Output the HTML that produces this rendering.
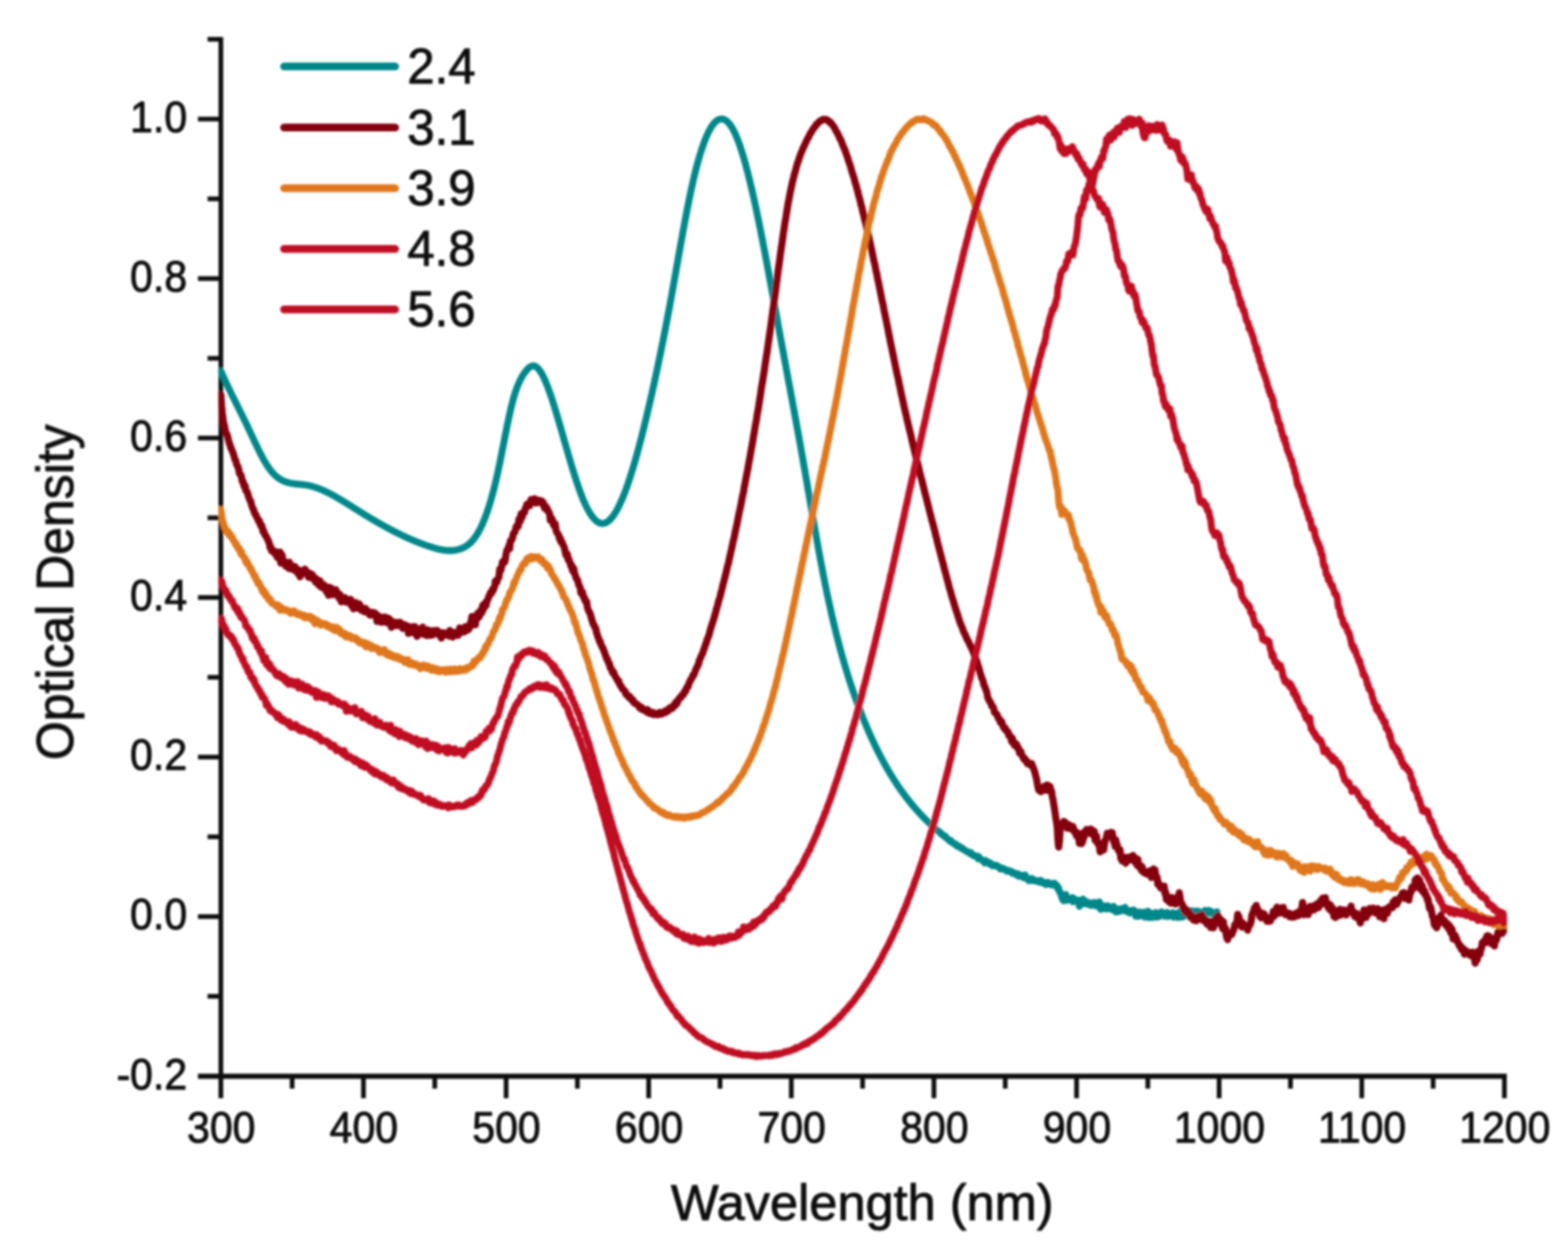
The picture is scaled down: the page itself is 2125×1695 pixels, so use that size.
<!DOCTYPE html>
<html lang="en"><head><meta charset="utf-8"><title>Optical Density vs Wavelength</title>
<style>html,body{margin:0;padding:0;background:#fff}body{width:2125px;height:1695px;overflow:hidden}svg{display:block}text{font-family:"Liberation Sans",Arial,Helvetica,sans-serif;fill:#0a0a0a;stroke:#0a0a0a;stroke-width:1.1px;stroke-linejoin:round}.tk{font-size:55.5px}.lg{font-size:66.5px}.ax{font-size:68px}</style></head><body>
<svg xmlns="http://www.w3.org/2000/svg" width="2125" height="1695" viewBox="0 0 2125 1695">
<defs><filter id="b" x="-2%" y="-2%" width="104%" height="104%"><feGaussianBlur stdDeviation="1.60"/></filter><clipPath id="c"><rect x="295.8" y="0" width="1746.5" height="1695"/></clipPath></defs>
<rect width="2125" height="1695" fill="#fff"/>
<g filter="url(#b)">
<g stroke="#0c0c0c" stroke-width="6.3" fill="none" stroke-linecap="butt">
<path d="M299.3 50.2 V1488.0"/>
<path stroke-width="7" d="M268.3 1458.3 H2042.0"/>
<path d="M281.3 1349.9 H299.3"/>
<path d="M268.3 1241.9 H299.3"/>
<path d="M281.3 1133.8 H299.3"/>
<path d="M268.3 1025.8 H299.3"/>
<path d="M281.3 917.7 H299.3"/>
<path d="M268.3 809.6 H299.3"/>
<path d="M281.3 701.6 H299.3"/>
<path d="M268.3 593.5 H299.3"/>
<path d="M281.3 485.5 H299.3"/>
<path d="M268.3 377.4 H299.3"/>
<path d="M281.3 269.4 H299.3"/>
<path d="M268.3 161.3 H299.3"/>
<path d="M281.3 53.2 H299.3"/>
<path d="M395.9 1458.0 V1475.0"/>
<path d="M492.6 1458.0 V1488.0"/>
<path d="M589.2 1458.0 V1475.0"/>
<path d="M685.9 1458.0 V1488.0"/>
<path d="M782.5 1458.0 V1475.0"/>
<path d="M879.1 1458.0 V1488.0"/>
<path d="M975.8 1458.0 V1475.0"/>
<path d="M1072.4 1458.0 V1488.0"/>
<path d="M1169.0 1458.0 V1475.0"/>
<path d="M1265.7 1458.0 V1488.0"/>
<path d="M1362.3 1458.0 V1475.0"/>
<path d="M1459.0 1458.0 V1488.0"/>
<path d="M1555.6 1458.0 V1475.0"/>
<path d="M1652.2 1458.0 V1488.0"/>
<path d="M1748.9 1458.0 V1475.0"/>
<path d="M1845.5 1458.0 V1488.0"/>
<path d="M1942.2 1458.0 V1475.0"/>
<path d="M2038.8 1458.0 V1488.0"/>
</g>
<g fill="none" stroke-linejoin="round" stroke-linecap="butt" clip-path="url(#c)">
<path d="M293.3 502.8L299.3 502.8L300.3 505L301.2 507.2L302.2 509.3L303.2 511.5L304.1 513.6L305.1 515.7L306.1 517.7L307 519.8L308 521.8L309 523.9L309.9 525.9L310.9 527.9L311.9 529.9L312.8 531.9L313.8 533.8L314.8 535.8L315.7 537.8L316.7 539.7L317.7 541.7L318.6 543.6L319.6 545.6L320.6 547.5L321.5 549.4L322.5 551.4L323.5 553.3L324.4 555.2L325.4 557.2L326.4 559.1L327.3 561.1L328.3 563L329.3 565L330.2 567L331.2 569L332.2 570.9L333.1 572.9L334.1 575L335.1 577L336 579L337 581.1L338 583.1L338.9 585.2L339.9 587.3L340.9 589.4L341.8 591.4L342.8 593.5L343.8 595.6L344.7 597.6L345.7 599.7L346.7 601.7L347.6 603.7L348.6 605.7L349.6 607.7L350.5 609.7L351.5 611.6L352.5 613.6L353.4 615.4L354.4 617.3L355.4 619.1L356.3 620.9L357.3 622.7L358.2 624.4L359.2 626L360.2 627.6L361.1 629.2L362.1 630.7L363.1 632.2L364 633.6L365 635L366 636.3L366.9 637.5L367.9 638.7L368.9 639.9L369.8 640.9L370.8 642L371.8 642.9L372.7 643.9L373.7 644.8L374.7 645.6L375.6 646.4L376.6 647.1L377.6 647.8L378.5 648.5L379.5 649.1L380.5 649.7L381.4 650.2L382.4 650.8L383.4 651.2L384.3 651.7L385.3 652.1L386.3 652.5L387.2 652.8L388.2 653.2L389.2 653.5L390.1 653.8L391.1 654L392.1 654.2L393 654.5L394 654.7L395 654.9L395.9 655L396.9 655.2L397.9 655.3L398.8 655.4L399.8 655.6L400.8 655.7L401.7 655.8L402.7 655.9L403.7 656L404.6 656.1L405.6 656.2L406.6 656.3L407.5 656.3L408.5 656.4L409.5 656.5L410.4 656.6L411.4 656.8L412.4 656.9L413.3 657L414.3 657.2L415.3 657.3L416.2 657.5L417.2 657.7L418.2 657.9L419.1 658.1L420.1 658.3L421.1 658.5L422 658.8L423 659L424 659.3L424.9 659.6L425.9 659.9L426.9 660.2L427.8 660.5L428.8 660.8L429.8 661.2L430.7 661.5L431.7 661.9L432.7 662.2L433.6 662.6L434.6 663L435.6 663.4L436.5 663.8L437.5 664.2L438.5 664.7L439.4 665.1L440.4 665.5L441.4 666L442.3 666.5L443.3 666.9L444.3 667.4L445.2 667.9L446.2 668.4L447.2 668.9L448.1 669.4L449.1 669.9L450.1 670.4L451 670.9L452 671.5L453 672L453.9 672.5L454.9 673.1L455.9 673.6L456.8 674.2L457.8 674.8L458.8 675.3L459.7 675.9L460.7 676.5L461.7 677L462.6 677.6L463.6 678.2L464.6 678.8L465.5 679.4L466.5 680L467.5 680.6L468.4 681.2L469.4 681.8L470.4 682.4L471.3 683L472.3 683.6L473.2 684.2L474.2 684.8L475.2 685.4L476.1 686L477.1 686.6L478.1 687.2L479 687.9L480 688.5L481 689.1L481.9 689.7L482.9 690.3L483.9 690.9L484.8 691.5L485.8 692.1L486.8 692.7L487.7 693.3L488.7 693.9L489.7 694.5L490.6 695.1L491.6 695.7L492.6 696.3L493.5 696.9L494.5 697.5L495.5 698.1L496.4 698.7L497.4 699.3L498.4 699.9L499.3 700.4L500.3 701L501.3 701.6L502.2 702.2L503.2 702.8L504.2 703.3L505.1 703.9L506.1 704.5L507.1 705L508 705.6L509 706.2L510 706.7L510.9 707.3L511.9 707.8L512.9 708.4L513.8 708.9L514.8 709.5L515.8 710L516.7 710.6L517.7 711.1L518.7 711.7L519.6 712.2L520.6 712.7L521.6 713.3L522.5 713.8L523.5 714.3L524.5 714.9L525.4 715.4L526.4 715.9L527.4 716.4L528.3 716.9L529.3 717.5L530.3 718L531.2 718.5L532.2 719L533.2 719.5L534.1 720L535.1 720.5L536.1 721L537 721.4L538 721.9L539 722.4L539.9 722.9L540.9 723.4L541.9 723.8L542.8 724.3L543.8 724.8L544.8 725.2L545.7 725.7L546.7 726.2L547.7 726.6L548.6 727.1L549.6 727.5L550.6 728L551.5 728.4L552.5 728.8L553.5 729.3L554.4 729.7L555.4 730.1L556.4 730.6L557.3 731L558.3 731.4L559.3 731.8L560.2 732.2L561.2 732.6L562.2 733L563.1 733.4L564.1 733.8L565.1 734.2L566 734.6L567 735L568 735.3L568.9 735.7L569.9 736.1L570.9 736.5L571.8 736.8L572.8 737.2L573.8 737.5L574.7 737.9L575.7 738.2L576.7 738.6L577.6 738.9L578.6 739.2L579.6 739.6L580.5 739.9L581.5 740.2L582.5 740.5L583.4 740.8L584.4 741.1L585.4 741.5L586.3 741.7L587.3 742L588.3 742.3L589.2 742.6L590.2 742.9L591.1 743.1L592.1 743.4L593.1 743.7L594 743.9L595 744.1L596 744.3L596.9 744.6L597.9 744.8L598.9 744.9L599.8 745.1L600.8 745.3L601.8 745.4L602.7 745.5L603.7 745.7L604.7 745.8L605.6 745.9L606.6 745.9L607.6 746L608.5 746L609.5 746L610.5 746L611.4 746L612.4 746L613.4 745.9L614.3 745.8L615.3 745.7L616.3 745.6L617.2 745.4L618.2 745.3L619.2 745.1L620.1 744.8L621.1 744.6L622.1 744.3L623 744L624 743.7L625 743.3L625.9 743L626.9 742.5L627.9 742.1L628.8 741.6L629.8 741.1L630.8 740.6L631.7 740L632.7 739.3L633.7 738.6L634.6 737.9L635.6 737.1L636.6 736.3L637.5 735.4L638.5 734.4L639.5 733.4L640.4 732.4L641.4 731.2L642.4 730L643.3 728.7L644.3 727.4L645.3 726L646.2 724.5L647.2 722.9L648.2 721.3L649.1 719.5L650.1 717.7L651.1 715.8L652 713.9L653 711.8L654 709.7L654.9 707.4L655.9 705.1L656.9 702.7L657.8 700.2L658.8 697.5L659.8 694.8L660.7 692L661.7 689.1L662.7 686.1L663.6 683L664.6 679.8L665.6 676.5L666.5 673.1L667.5 669.6L668.5 665.9L669.4 662.2L670.4 658.3L671.4 654.3L672.3 650.2L673.3 646L674.3 641.7L675.2 637.3L676.2 632.7L677.2 628.1L678.1 623.3L679.1 618.5L680.1 613.6L681 608.7L682 603.8L683 598.8L683.9 593.9L684.9 589L685.9 584.1L686.8 579.3L687.8 574.6L688.8 569.9L689.7 565.4L690.7 560.9L691.7 556.6L692.6 552.5L693.6 548.5L694.6 544.7L695.5 541.1L696.5 537.6L697.5 534.4L698.4 531.4L699.4 528.5L700.4 525.8L701.3 523.3L702.3 520.9L703.3 518.7L704.2 516.6L705.2 514.6L706.1 512.8L707.1 511L708.1 509.4L709 507.8L710 506.4L711 505L711.9 503.7L712.9 502.5L713.9 501.3L714.8 500.3L715.8 499.3L716.8 498.4L717.7 497.6L718.7 497L719.7 496.4L720.6 496L721.6 495.8L722.6 495.7L723.5 495.7L724.5 496L725.5 496.3L726.4 496.9L727.4 497.6L728.4 498.4L729.3 499.4L730.3 500.5L731.3 501.8L732.2 503.2L733.2 504.7L734.2 506.3L735.1 508L736.1 509.9L737.1 511.9L738 514L739 516.1L740 518.4L740.9 520.8L741.9 523.2L742.9 525.8L743.8 528.4L744.8 531.1L745.8 533.9L746.7 536.7L747.7 539.6L748.7 542.5L749.6 545.6L750.6 548.6L751.6 551.7L752.5 554.9L753.5 558L754.5 561.3L755.4 564.5L756.4 567.8L757.4 571.1L758.3 574.4L759.3 577.7L760.3 581.1L761.2 584.4L762.2 587.8L763.2 591.2L764.1 594.6L765.1 598L766.1 601.3L767 604.7L768 608.1L769 611.4L769.9 614.8L770.9 618.1L771.9 621.4L772.8 624.7L773.8 628L774.8 631.2L775.7 634.4L776.7 637.5L777.7 640.7L778.6 643.8L779.6 646.8L780.6 649.8L781.5 652.7L782.5 655.6L783.5 658.5L784.4 661.2L785.4 664L786.4 666.6L787.3 669.2L788.3 671.7L789.3 674.2L790.2 676.6L791.2 678.8L792.2 681.1L793.1 683.2L794.1 685.3L795.1 687.2L796 689.1L797 690.9L798 692.7L798.9 694.3L799.9 695.9L800.9 697.4L801.8 698.8L802.8 700.1L803.8 701.3L804.7 702.5L805.7 703.5L806.7 704.5L807.6 705.4L808.6 706.2L809.6 706.9L810.5 707.5L811.5 708L812.5 708.5L813.4 708.8L814.4 709L815.4 709.2L816.3 709.3L817.3 709.2L818.3 709.1L819.2 708.9L820.2 708.6L821.2 708.2L822.1 707.7L823.1 707.1L824 706.4L825 705.7L826 704.8L826.9 703.9L827.9 702.9L828.9 701.8L829.8 700.6L830.8 699.3L831.8 697.9L832.7 696.5L833.7 695L834.7 693.4L835.6 691.7L836.6 690L837.6 688.1L838.5 686.2L839.5 684.3L840.5 682.2L841.4 680.1L842.4 677.9L843.4 675.7L844.3 673.3L845.3 670.9L846.3 668.5L847.2 665.9L848.2 663.4L849.2 660.7L850.1 658L851.1 655.2L852.1 652.4L853 649.5L854 646.5L855 643.5L855.9 640.4L856.9 637.3L857.9 634.1L858.8 630.8L859.8 627.5L860.8 624.2L861.7 620.8L862.7 617.4L863.7 613.9L864.6 610.3L865.6 606.7L866.6 603.1L867.5 599.4L868.5 595.7L869.5 591.9L870.4 588.1L871.4 584.2L872.4 580.4L873.3 576.4L874.3 572.4L875.3 568.4L876.2 564.4L877.2 560.3L878.2 556.2L879.1 552.1L880.1 547.9L881.1 543.7L882 539.4L883 535.2L884 530.8L884.9 526.5L885.9 522.1L886.9 517.7L887.8 513.3L888.8 508.8L889.8 504.3L890.7 499.8L891.7 495.2L892.7 490.6L893.6 485.9L894.6 481.2L895.6 476.5L896.5 471.7L897.5 466.9L898.5 462.1L899.4 457.2L900.4 452.3L901.4 447.3L902.3 442.4L903.3 437.3L904.3 432.2L905.2 427.1L906.2 422L907.2 416.8L908.1 411.5L909.1 406.3L910.1 401L911 395.6L912 390.2L913 384.8L913.9 379.4L914.9 373.9L915.9 368.5L916.8 363L917.8 357.5L918.8 352.1L919.7 346.6L920.7 341.2L921.7 335.8L922.6 330.3L923.6 325L924.6 319.6L925.5 314.3L926.5 309.1L927.5 303.8L928.4 298.7L929.4 293.6L930.4 288.5L931.3 283.5L932.3 278.6L933.3 273.8L934.2 269L935.2 264.4L936.2 259.8L937.1 255.3L938.1 250.9L939 246.7L940 242.5L941 238.4L941.9 234.4L942.9 230.6L943.9 226.8L944.8 223.1L945.8 219.6L946.8 216.1L947.7 212.8L948.7 209.5L949.7 206.4L950.6 203.3L951.6 200.4L952.6 197.6L953.5 194.9L954.5 192.2L955.5 189.7L956.4 187.3L957.4 185L958.4 182.8L959.3 180.7L960.3 178.7L961.3 176.8L962.2 175.1L963.2 173.4L964.2 171.8L965.1 170.4L966.1 169L967.1 167.8L968 166.6L969 165.6L970 164.7L970.9 163.9L971.9 163.2L972.9 162.5L973.8 162.1L974.8 161.7L975.8 161.4L976.7 161.2L977.7 161.1L978.7 161.2L979.6 161.3L980.6 161.6L981.6 162L982.5 162.5L983.5 163L984.5 163.7L985.4 164.5L986.4 165.5L987.4 166.5L988.3 167.6L989.3 168.9L990.3 170.2L991.2 171.7L992.2 173.2L993.2 174.9L994.1 176.7L995.1 178.6L996.1 180.6L997 182.8L998 185L999 187.3L999.9 189.8L1000.9 192.4L1001.9 195L1002.8 197.8L1003.8 200.6L1004.8 203.6L1005.7 206.6L1006.7 209.8L1007.7 213L1008.6 216.3L1009.6 219.8L1010.6 223.3L1011.5 226.8L1012.5 230.5L1013.5 234.2L1014.4 238.1L1015.4 242L1016.4 245.9L1017.3 250L1018.3 254.1L1019.3 258.2L1020.2 262.5L1021.2 266.8L1022.2 271.2L1023.1 275.6L1024.1 280.1L1025.1 284.6L1026 289.2L1027 293.9L1028 298.5L1028.9 303.3L1029.9 308.1L1030.9 312.9L1031.8 317.8L1032.8 322.7L1033.8 327.7L1034.7 332.7L1035.7 337.7L1036.7 342.7L1037.6 347.8L1038.6 352.9L1039.6 358.1L1040.5 363.2L1041.5 368.4L1042.5 373.6L1043.4 378.9L1044.4 384.1L1045.4 389.4L1046.3 394.6L1047.3 399.9L1048.3 405.2L1049.2 410.5L1050.2 415.8L1051.2 421.1L1052.1 426.4L1053.1 431.7L1054 437L1055 442.3L1056 447.6L1056.9 452.8L1057.9 458.1L1058.9 463.4L1059.8 468.6L1060.8 473.8L1061.8 479L1062.7 484.2L1063.7 489.4L1064.7 494.6L1065.6 499.8L1066.6 505L1067.6 510.2L1068.5 515.4L1069.5 520.6L1070.5 525.7L1071.4 530.9L1072.4 536.1L1073.4 541.3L1074.3 546.5L1075.3 551.8L1076.3 557L1077.2 562.3L1078.2 567.5L1079.2 572.8L1080.1 578.1L1081.1 583.4L1082.1 588.7L1083 594.1L1084 599.5L1085 604.9L1085.9 610.3L1086.9 615.8L1087.9 621.3L1088.8 626.8L1089.8 632.3L1090.8 637.9L1091.7 643.4L1092.7 649L1093.7 654.6L1094.6 660.3L1095.6 665.9L1096.6 671.5L1097.5 677.1L1098.5 682.7L1099.5 688.3L1100.4 693.9L1101.4 699.5L1102.4 705L1103.3 710.6L1104.3 716.1L1105.3 721.6L1106.2 727L1107.2 732.5L1108.2 737.9L1109.1 743.2L1110.1 748.5L1111.1 753.8L1112 759L1113 764.2L1114 769.3L1114.9 774.3L1115.9 779.3L1116.9 784.2L1117.8 789.1L1118.8 793.9L1119.8 798.6L1120.7 803.3L1121.7 807.9L1122.7 812.4L1123.6 816.9L1124.6 821.3L1125.6 825.6L1126.5 829.9L1127.5 834.2L1128.5 838.4L1129.4 842.5L1130.4 846.5L1131.4 850.6L1132.3 854.5L1133.3 858.4L1134.3 862.3L1135.2 866L1136.2 869.8L1137.2 873.5L1138.1 877.1L1139.1 880.7L1140.1 884.3L1141 887.7L1142 891.2L1143 894.6L1143.9 897.9L1144.9 901.3L1145.9 904.5L1146.8 907.7L1147.8 910.9L1148.8 914.1L1149.7 917.1L1150.7 920.2L1151.7 923.2L1152.6 926.2L1153.6 929.1L1154.6 932L1155.5 934.9L1156.5 937.7L1157.5 940.5L1158.4 943.3L1159.4 946L1160.4 948.7L1161.3 951.3L1162.3 953.9L1163.3 956.5L1164.2 959.1L1165.2 961.6L1166.2 964.1L1167.1 966.6L1168.1 969.1L1169 971.5L1170 973.9L1171 976.3L1171.9 978.6L1172.9 980.9L1173.9 983.3L1174.8 985.5L1175.8 987.8L1176.8 990L1177.7 992.2L1178.7 994.4L1179.7 996.6L1180.6 998.7L1181.6 1000.8L1182.6 1002.9L1183.5 1005L1184.5 1007.1L1185.5 1009.1L1186.4 1011.1L1187.4 1013.1L1188.4 1015.1L1189.3 1017L1190.3 1018.9L1191.3 1020.9L1192.2 1022.7L1193.2 1024.6L1194.2 1026.5L1195.1 1028.3L1196.1 1030.1L1197.1 1031.9L1198 1033.7L1199 1035.4L1200 1037.1L1200.9 1038.9L1201.9 1040.5L1202.9 1042.2L1203.8 1043.9L1204.8 1045.5L1205.8 1047.2L1206.7 1048.8L1207.7 1050.3L1208.7 1051.9L1209.6 1053.5L1210.6 1055L1211.6 1056.5L1212.5 1058L1213.5 1059.5L1214.5 1061L1215.4 1062.5L1216.4 1063.9L1217.4 1065.3L1218.3 1066.8L1219.3 1068.2L1220.3 1069.5L1221.2 1070.9L1222.2 1072.3L1223.2 1073.6L1224.1 1074.9L1225.1 1076.2L1226.1 1077.5L1227 1078.8L1228 1080.1L1229 1081.4L1229.9 1082.6L1230.9 1083.8L1231.9 1085.1L1232.8 1086.3L1233.8 1087.5L1234.8 1088.6L1235.7 1089.8L1236.7 1091L1237.7 1092.1L1238.6 1093.3L1239.6 1094.4L1240.6 1095.5L1241.5 1096.6L1242.5 1097.7L1243.5 1098.8L1244.4 1099.9L1245.4 1100.9L1246.4 1102L1247.3 1103L1248.3 1104.1L1249.3 1105.1L1250.2 1106.1L1251.2 1107.1L1252.2 1108.1L1253.1 1109L1254.1 1110.1L1255.1 1111L1256 1112L1257 1113L1258 1113.9L1258.9 1114.7L1259.9 1115.7L1260.9 1116.7L1261.8 1117.6L1262.8 1118.5L1263.8 1119.8L1264.7 1120.2L1265.7 1121.2L1266.7 1121.8L1267.6 1122.8L1268.6 1123.8L1269.6 1124.7L1270.5 1125.3L1271.5 1126.3L1272.5 1127L1273.4 1127.3L1274.4 1127.6L1275.4 1130.2L1276.3 1130.5L1277.3 1131L1278.3 1131.2L1279.2 1132.1L1280.2 1133.8L1281.2 1133L1282.1 1134.6L1283.1 1135.9L1284.1 1136.3L1285 1137.3L1286 1137.6L1286.9 1139.5L1287.9 1138.6L1288.9 1139.1L1289.8 1140.6L1290.8 1141.9L1291.8 1141.8L1292.7 1143.1L1293.7 1142.9L1294.7 1143.2L1295.6 1145.3L1296.6 1146L1297.6 1146.7L1298.5 1146.1L1299.5 1146.3L1300.5 1146.9L1301.4 1148.1L1302.4 1149.2L1303.4 1149.8L1304.3 1149.1L1305.3 1150.8L1306.3 1151.2L1307.2 1151.9L1308.2 1152.4L1309.2 1152.8L1310.1 1154L1311.1 1154.2L1312.1 1154.8L1313 1154.6L1314 1156.1L1315 1156.2L1315.9 1155.1L1316.9 1157.8L1317.9 1157.7L1318.8 1159.2L1319.8 1158.8L1320.8 1159.4L1321.7 1160.1L1322.7 1160.4L1323.7 1160.5L1324.6 1159.8L1325.6 1163.7L1326.6 1160.9L1327.5 1162.6L1328.5 1164.1L1329.5 1164.3L1330.4 1164.9L1331.4 1165.6L1332.4 1166.6L1333.3 1166.1L1334.3 1169.2L1335.3 1165.7L1336.2 1167.4L1337.2 1167.2L1338.2 1167.5L1339.1 1168.8L1340.1 1170.4L1341.1 1168.7L1342 1169.1L1343 1171L1344 1171.3L1344.9 1173.2L1345.9 1172.6L1346.9 1172.2L1347.8 1172.1L1348.8 1173.1L1349.8 1173.1L1350.7 1172.3L1351.7 1174.1L1352.7 1174.3L1353.6 1174.7L1354.6 1174.9L1355.6 1177.5L1356.5 1176.9L1357.5 1177.5L1358.5 1176.3L1359.4 1176.3L1360.4 1177.5L1361.4 1178.4L1362.3 1178.2L1363.3 1178.8L1364.3 1180.4L1365.2 1180.1L1366.2 1179.1L1367.2 1180.1L1368.1 1180.2L1369.1 1181.5L1370.1 1180.4L1371 1181.9L1372 1183.2L1373 1182.9L1373.9 1182.2L1374.9 1182.9L1375.9 1184.1L1376.8 1184.9L1377.8 1185.6L1378.8 1184.9L1379.7 1184L1380.7 1187.3L1381.7 1186.5L1382.6 1186.9L1383.6 1187.2L1384.6 1186L1385.5 1187.2L1386.5 1188.2L1387.5 1189.4L1388.4 1188.6L1389.4 1185.4L1390.4 1188.9L1391.3 1189.9L1392.3 1191.3L1393.3 1191L1394.2 1193.3L1395.2 1192.4L1396.2 1192.6L1397.1 1192.5L1398.1 1190.1L1399.1 1193L1400 1193L1401 1192L1401.9 1193.5L1402.9 1193.6L1403.9 1192.9L1404.8 1193.5L1405.8 1193.6L1406.8 1194.5L1407.7 1194L1408.7 1195.3L1409.7 1192.7L1410.6 1194.9L1411.6 1193.5L1412.6 1195.1L1413.5 1196.5L1414.5 1196.1L1415.5 1196.2L1416.4 1196.6L1417.4 1198.5L1418.4 1195.6L1419.3 1198.1L1420.3 1195.5L1421.3 1196.8L1422.2 1197.8L1423.2 1196.8L1424.2 1198.3L1425.1 1199.2L1426.1 1197.2L1427.1 1198.6L1428 1198.3L1429 1196.6L1430 1198.8L1430.9 1198.4L1431.9 1201.8L1432.9 1200.2L1433.8 1204.6L1434.8 1203.4L1435.8 1208.3L1436.7 1208.5L1437.7 1211.4L1438.7 1215.1L1439.6 1217.6L1440.6 1219.4L1441.6 1220.6L1442.5 1216.4L1443.5 1214.7L1444.5 1211.9L1445.4 1217.1L1446.4 1219.8L1447.4 1219.2L1448.3 1218.8L1449.3 1218L1450.3 1217.7L1451.2 1218.8L1452.2 1220.5L1453.2 1216.1L1454.1 1221.9L1455.1 1217.4L1456.1 1220.6L1457 1219.8L1458 1220.7L1459 1219.4L1459.9 1219.4L1460.9 1221.7L1461.9 1220L1462.8 1228.1L1463.8 1222L1464.8 1221.6L1465.7 1222.1L1466.7 1221.1L1467.7 1218.2L1468.6 1223.2L1469.6 1224.6L1470.6 1220.7L1471.5 1224.2L1472.5 1221.6L1473.5 1224.3L1474.4 1225.2L1475.4 1225.6L1476.4 1225.6L1477.3 1223.1L1478.3 1226.7L1479.3 1223.9L1480.2 1225.8L1481.2 1226.7L1482.2 1224.6L1483.1 1222.7L1484.1 1227L1485.1 1223.4L1486 1224.1L1487 1223.9L1488 1228.4L1488.9 1226.4L1489.9 1222L1490.9 1228.8L1491.8 1232.1L1492.8 1231.8L1493.8 1226.9L1494.7 1228.7L1495.7 1230L1496.7 1231.1L1497.6 1229.5L1498.6 1227.3L1499.6 1231.6L1500.5 1231.4L1501.5 1227.2L1502.5 1229.5L1503.4 1231L1504.4 1230.4L1505.4 1231.7L1506.3 1232.4L1507.3 1231.9L1508.3 1230.5L1509.2 1227.9L1510.2 1232.4L1511.2 1234.2L1512.1 1235.7L1513.1 1231.4L1514.1 1231.6L1515 1235.1L1516 1235.3L1516.9 1233.1L1517.9 1234.1L1518.9 1231.1L1519.8 1234.2L1520.8 1231.3L1521.8 1233L1522.7 1233.2L1523.7 1232.7L1524.7 1229.3L1525.6 1232.3L1526.6 1235L1527.6 1234.4L1528.5 1233.8L1529.5 1235.8L1530.5 1236.6L1531.4 1237.1L1532.4 1233.7L1533.4 1235.7L1534.3 1235.1L1535.3 1234.1L1536.3 1232.9L1537.2 1236.2L1538.2 1234.7L1539.2 1241.5L1540.1 1236.8L1541.1 1236.7L1542.1 1236.5L1543 1241.7L1544 1235.7L1545 1237.6L1545.9 1236.5L1546.9 1238.1L1547.9 1238.5L1548.8 1241.1L1549.8 1235.8L1550.8 1239.1L1551.7 1242.9L1552.7 1238.5L1553.7 1239.5L1554.6 1238.2L1555.6 1234.6L1556.6 1240.3L1557.5 1243.3L1558.5 1239.9L1559.5 1236.9L1560.4 1241.5L1561.4 1241.1L1562.4 1243L1563.3 1242.7L1564.3 1240L1565.3 1241.3L1566.2 1236.3L1567.2 1242.6L1568.2 1240.5L1569.1 1242.4L1570.1 1242.3L1571.1 1239.3L1572 1239.6L1573 1238L1574 1235.4L1574.9 1239.7L1575.9 1240.3L1576.9 1237.6L1577.8 1241.5L1578.8 1240.2L1579.8 1241L1580.7 1238.3L1581.7 1236.2L1582.7 1241.8L1583.6 1241.6L1584.6 1240.2L1585.6 1239.6L1586.5 1240.1L1587.5 1240.5L1588.5 1239.8L1589.4 1236.5L1590.4 1242.7L1591.4 1237.6L1592.3 1240.1L1593.3 1240.1L1594.3 1241.3L1595.2 1237.1L1596.2 1243.1L1597.2 1241.8L1598.1 1241.9L1599.1 1242.9L1600.1 1238.2L1601 1232.9L1602 1240.4L1603 1242.3L1603.9 1241.8L1604.9 1237.8L1605.9 1238.6L1606.8 1239.2L1607.8 1234.4L1608.8 1236.7L1609.7 1236.6L1610.7 1241.4L1611.7 1236.3L1612.6 1241.1L1613.6 1237.5L1614.6 1233.7L1615.5 1242.1L1616.5 1235L1617.5 1238.5L1618.4 1240.8L1619.4 1235.8L1620.4 1234.3L1621.3 1239.3L1622.3 1237.1L1623.3 1234.3L1624.2 1234.6L1625.2 1236.1L1626.2 1239.1L1627.1 1236.4L1628.1 1238.4L1629.1 1240.6L1630 1239.8L1631 1240.2L1632 1239.7L1632.9 1233.5L1633.9 1239.7L1634.8 1237.7L1635.8 1236.7L1636.8 1234.6L1637.7 1233.5L1638.7 1234.6L1639.7 1237L1640.6 1234.4L1641.6 1235.2L1642.6 1235.7L1643.5 1238.6L1644.5 1236.5L1645.5 1236.9L1646.4 1240.3L1647.4 1236.7L1648.4 1238.9L1649.3 1235.3L1650.3 1238.5L1651.3 1238.2L1652.2 1238.4" stroke="#06878a" stroke-width="9.3"/>
<path d="M293.3 535.4L299.3 535.4L300.3 549.6L301.2 559.3L302.2 566.8L303.2 574.6L304.1 575.6L305.1 582.5L306.1 586.3L307 587.4L308 589.7L309 593.7L309.9 597.2L310.9 601.2L311.9 603L312.8 607.3L313.8 608.5L314.8 611.2L315.7 613.1L316.7 616.5L317.7 620L318.6 623.1L319.6 623.8L320.6 628.9L321.5 630.6L322.5 632.8L323.5 635.5L324.4 641.6L325.4 642.1L326.4 643.6L327.3 646.2L328.3 652.2L329.3 652L330.2 656.7L331.2 659.6L332.2 657.7L333.1 664.6L334.1 665.3L335.1 666.7L336 669.9L337 673.6L338 675.8L338.9 678.3L339.9 679.3L340.9 684.1L341.8 686.7L342.8 689.5L343.8 690.8L344.7 694.2L345.7 696.7L346.7 697.3L347.6 699.8L348.6 701.7L349.6 703.8L350.5 706.4L351.5 705.5L352.5 709.4L353.4 712.5L354.4 711.5L355.4 714.5L356.3 720.2L357.3 719.1L358.2 721.9L359.2 725L360.2 726L361.1 727.3L362.1 729.7L363.1 731.7L364 733.2L365 736.6L366 742.1L366.9 740.7L367.9 746.2L368.9 745.4L369.8 747.5L370.8 748.1L371.8 746.6L372.7 750.4L373.7 751.3L374.7 747.8L375.6 755.3L376.6 755.8L377.6 756.2L378.5 754.1L379.5 748L380.5 762.9L381.4 758.5L382.4 752.3L383.4 762.6L384.3 758.8L385.3 764.2L386.3 762.3L387.2 767.1L388.2 764.7L389.2 765.4L390.1 765.6L391.1 769.8L392.1 761.8L393 770.6L394 769.5L395 765.8L395.9 768.1L396.9 767.1L397.9 769.3L398.8 772.7L399.8 767.7L400.8 772.9L401.7 774L402.7 773.5L403.7 777L404.6 772L405.6 775.1L406.6 781.5L407.5 773.8L408.5 773.8L409.5 774.8L410.4 777.3L411.4 773.8L412.4 775.6L413.3 771.1L414.3 774.1L415.3 774.7L416.2 774.9L417.2 777.8L418.2 782.2L419.1 779.3L420.1 776.8L421.1 782.6L422 783L423 778.4L424 784.2L424.9 780.8L425.9 782.9L426.9 783.2L427.8 789L428.8 784.2L429.8 786.5L430.7 788.9L431.7 792.3L432.7 793.5L433.6 786.9L434.6 794.9L435.6 792.6L436.5 796.2L437.5 796.4L438.5 791.9L439.4 794.4L440.4 794L441.4 796.9L442.3 801.8L443.3 797.2L444.3 795.5L445.2 806.6L446.2 795.7L447.2 799.6L448.1 800.2L449.1 796.8L450.1 804.2L451 805.7L452 802.6L453 803.7L453.9 803.6L454.9 799L455.9 806.1L456.8 801.9L457.8 803.5L458.8 808.5L459.7 810.8L460.7 805.6L461.7 812.7L462.6 815.4L463.6 810.8L464.6 810.5L465.5 812L466.5 810.6L467.5 809.7L468.4 815.2L469.4 816L470.4 812.6L471.3 813.5L472.3 813.3L473.2 813.6L474.2 813.3L475.2 812.1L476.1 820.4L477.1 816.9L478.1 818.8L479 824.9L480 818L481 822L481.9 816.3L482.9 819.1L483.9 823.9L484.8 821.3L485.8 818.1L486.8 818.2L487.7 824.7L488.7 821.1L489.7 826.8L490.6 826L491.6 824.6L492.6 825.8L493.5 828.9L494.5 827.1L495.5 824.4L496.4 829L497.4 827.3L498.4 828.1L499.3 831.1L500.3 830.8L501.3 833.4L502.2 830.1L503.2 829.7L504.2 830.5L505.1 833.2L506.1 829.9L507.1 831.7L508 830.7L509 831.3L510 833.6L510.9 842.1L511.9 833.8L512.9 836.2L513.8 836.1L514.8 835.7L515.8 836.8L516.7 843.1L517.7 836.7L518.7 842.8L519.6 840.3L520.6 836L521.6 837.1L522.5 838.1L523.5 836.6L524.5 843.8L525.4 842L526.4 842.7L527.4 838.3L528.3 843.3L529.3 840.6L530.3 850L531.2 842.7L532.2 844.3L533.2 845L534.1 842.7L535.1 843.4L536.1 843.7L537 847.8L538 843.5L539 845.5L539.9 847.4L540.9 845.5L541.9 843L542.8 843.9L543.8 846.6L544.8 845.3L545.7 851.4L546.7 848.9L547.7 849.2L548.6 846.6L549.6 851.5L550.6 849.2L551.5 847.8L552.5 849L553.5 858.3L554.4 849.8L555.4 849.3L556.4 855.6L557.3 854.7L558.3 851.9L559.3 857.1L560.2 849.1L561.2 852.3L562.2 849.1L563.1 858.2L564.1 854.6L565.1 862.3L566 856.4L567 856.7L568 852.2L568.9 852.3L569.9 854.6L570.9 858.8L571.8 853.4L572.8 849.7L573.8 859.3L574.7 859.6L575.7 854.5L576.7 858.6L577.6 860.8L578.6 861.1L579.6 853.3L580.5 858.2L581.5 855.9L582.5 861L583.4 858.7L584.4 855.1L585.4 858.9L586.3 860.4L587.3 854.4L588.3 855.1L589.2 857.1L590.2 858.2L591.1 857.5L592.1 854L593.1 854.8L594 859.1L595 860.4L596 856.8L596.9 859.8L597.9 864.6L598.9 858.7L599.8 858L600.8 857.3L601.8 860.6L602.7 859.8L603.7 859.8L604.7 858L605.6 860.2L606.6 860.1L607.6 858.4L608.5 861.9L609.5 854.2L610.5 860.4L611.4 857.9L612.4 860.4L613.4 863.2L614.3 857.8L615.3 856.9L616.3 857.1L617.2 860.8L618.2 861L619.2 856.8L620.1 857.8L621.1 860.7L622.1 856.8L623 850.7L624 852.2L625 852.7L625.9 854.7L626.9 851.5L627.9 856.4L628.8 850.7L629.8 855.7L630.8 849L631.7 853.9L632.7 850L633.7 852.7L634.6 853.4L635.6 852.1L636.6 849.4L637.5 843.6L638.5 842.6L639.5 835.2L640.4 847L641.4 845.5L642.4 843.8L643.3 836.9L644.3 846.4L645.3 835.9L646.2 838.9L647.2 831L648.2 832.5L649.1 836.2L650.1 834.3L651.1 827.2L652 828.5L653 830.3L654 820.7L654.9 826.2L655.9 818.3L656.9 822.6L657.8 818.5L658.8 820.1L659.8 814.2L660.7 812.8L661.7 810.9L662.7 807.3L663.6 807.1L664.6 803L665.6 802.1L666.5 803.3L667.5 798.4L668.5 799.9L669.4 796.6L670.4 794.6L671.4 787L672.3 788.7L673.3 789L674.3 785.1L675.2 783.5L676.2 781.7L677.2 771.1L678.1 774.1L679.1 771.5L680.1 766.9L681 761.3L682 762.5L683 759.1L683.9 762L684.9 757.7L685.9 750.5L686.8 746.2L687.8 744.1L688.8 743.5L689.7 739.1L690.7 743.6L691.7 732.7L692.6 732.9L693.6 731L694.6 729.1L695.5 723.1L696.5 722.4L697.5 721L698.4 718.9L699.4 714.1L700.4 712.4L701.3 711.4L702.3 713.5L703.3 703.2L704.2 705.9L705.2 706L706.1 696.3L707.1 701.5L708.1 699.5L709 694.2L710 694.7L711 694.3L711.9 688.6L712.9 688L713.9 683.4L714.8 683L715.8 683.6L716.8 682.1L717.7 685.3L718.7 679.9L719.7 676.7L720.6 681.2L721.6 680.8L722.6 679.2L723.5 677.6L724.5 675.9L725.5 676.2L726.4 681.6L727.4 680L728.4 678.7L729.3 679.9L730.3 678.6L731.3 677.9L732.2 679.7L733.2 681.6L734.2 678.8L735.1 680.3L736.1 680.7L737.1 684.9L738 688.6L739 685.5L740 687.3L740.9 687.8L741.9 692L742.9 691.9L743.8 694.1L744.8 695.6L745.8 705.1L746.7 701.6L747.7 702.3L748.7 704.7L749.6 709.7L750.6 712L751.6 712.6L752.5 709.7L753.5 718.5L754.5 720.9L755.4 722.5L756.4 724.1L757.4 725.5L758.3 730.3L759.3 729.3L760.3 734.6L761.2 733.6L762.2 736.1L763.2 738.4L764.1 740.5L765.1 743L766.1 748L767 752.1L768 749.6L769 751.3L769.9 758.5L770.9 757.5L771.9 761.2L772.8 763.3L773.8 767.2L774.8 765.9L775.7 772.5L776.7 774.1L777.7 770.3L778.6 777L779.6 778.9L780.6 782.9L781.5 784.4L782.5 785.4L783.5 788.7L784.4 792.6L785.4 794.4L786.4 796.5L787.3 803.7L788.3 802.8L789.3 802L790.2 807L791.2 809.9L792.2 809.9L793.1 814.6L794.1 815.3L795.1 815.4L796 822.7L797 825.7L798 828.3L798.9 829.6L799.9 831.5L800.9 835.5L801.8 838.5L802.8 841.9L803.8 845.2L804.7 847.1L805.7 847.7L806.7 851.1L807.6 851.9L808.6 857.6L809.6 860.1L810.5 863.6L811.5 865.3L812.5 869.4L813.4 869L814.4 873L815.4 874.8L816.3 877.4L817.3 878.1L818.3 881.9L819.2 883L820.2 887.2L821.2 889.2L822.1 892.4L823.1 892.8L824 896.3L825 898.8L826 899.1L826.9 904.7L827.9 905.7L828.9 906.6L829.8 910.7L830.8 912.2L831.8 910.9L832.7 914.4L833.7 915.9L834.7 918.2L835.6 919L836.6 921.2L837.6 923.1L838.5 922.4L839.5 926.2L840.5 928.8L841.4 929.1L842.4 931.5L843.4 933.3L844.3 933.5L845.3 934.9L846.3 936.3L847.2 936.8L848.2 940.7L849.2 940.2L850.1 941.5L851.1 943.2L852.1 944.9L853 943.2L854 944.7L855 947L855.9 948.4L856.9 947.7L857.9 948.6L858.8 951.8L859.8 952.7L860.8 952.6L861.7 953.5L862.7 954L863.7 954.3L864.6 955.4L865.6 957.4L866.6 957.8L867.5 959.8L868.5 958L869.5 958.2L870.4 961.4L871.4 960.3L872.4 961.6L873.3 962.6L874.3 961.6L875.3 961.8L876.2 964.4L877.2 961.3L878.2 965.7L879.1 963.1L880.1 966.6L881.1 966.3L882 966.5L883 967.1L884 966.9L884.9 965.1L885.9 968.1L886.9 967.3L887.8 967.8L888.8 967.1L889.8 966.9L890.7 968.4L891.7 968.4L892.7 967.4L893.6 965.3L894.6 965.5L895.6 965.2L896.5 967.8L897.5 966.7L898.5 965.8L899.4 965.2L900.4 964L901.4 965.7L902.3 962.7L903.3 962.4L904.3 964.1L905.2 963.3L906.2 961.7L907.2 959.6L908.1 958.9L909.1 960.8L910.1 959.4L911 959.9L912 956.7L913 956.2L913.9 954.3L914.9 956.3L915.9 951.5L916.8 953L917.8 952.9L918.8 949L919.7 947.3L920.7 946.5L921.7 944.8L922.6 945.3L923.6 943.5L924.6 941.3L925.5 940.5L926.5 940.7L927.5 937.5L928.4 935.8L929.4 936.3L930.4 932.1L931.3 930.8L932.3 930.7L933.3 927.7L934.2 924.3L935.2 923.3L936.2 920.3L937.1 919.6L938.1 918.4L939 914.9L940 915.2L941 912.9L941.9 910.4L942.9 907.1L943.9 905.4L944.8 903.5L945.8 901.4L946.8 899.2L947.7 894.7L948.7 893.2L949.7 890.5L950.6 888.4L951.6 886.1L952.6 884.6L953.5 880.7L954.5 878.5L955.5 875.4L956.4 872.5L957.4 870.5L958.4 866.4L959.3 864.3L960.3 861.9L961.3 859.4L962.2 854.8L963.2 851.6L964.2 848.3L965.1 845.5L966.1 842.5L967.1 839.3L968 836.4L969 832.5L970 829.4L970.9 825.2L971.9 822.2L972.9 818.9L973.8 814.5L974.8 811.9L975.8 808.6L976.7 804.6L977.7 801L978.7 797.1L979.6 792.9L980.6 789.5L981.6 785.4L982.5 781.8L983.5 777.8L984.5 773.9L985.4 769.3L986.4 765.7L987.4 762.3L988.3 757.8L989.3 753.2L990.3 748.7L991.2 745.1L992.2 740.4L993.2 735.4L994.1 731.5L995.1 727.9L996.1 722.1L997 718.2L998 713.3L999 709L999.9 704.2L1000.9 699.3L1001.9 693.9L1002.8 690.1L1003.8 685.4L1004.8 680.5L1005.7 675.2L1006.7 670.4L1007.7 666.6L1008.6 660.2L1009.6 655.5L1010.6 650L1011.5 645.3L1012.5 640.3L1013.5 635.4L1014.4 629.8L1015.4 624.4L1016.4 619.2L1017.3 613.8L1018.3 608.1L1019.3 602.7L1020.2 597.6L1021.2 591.3L1022.2 585.9L1023.1 579.9L1024.1 574.3L1025.1 569.4L1026 562.7L1027 557.3L1028 552L1028.9 545.4L1029.9 539.2L1030.9 532.9L1031.8 526.1L1032.8 520.6L1033.8 514.4L1034.7 508.9L1035.7 502.5L1036.7 495.3L1037.6 489.7L1038.6 482.7L1039.6 477.1L1040.5 470.4L1041.5 463.4L1042.5 456.2L1043.4 450.3L1044.4 443.1L1045.4 436.2L1046.3 429L1047.3 421.6L1048.3 414.9L1049.2 407.1L1050.2 400.5L1051.2 393L1052.1 385.1L1053.1 378.7L1054 371.3L1055 364L1056 357L1056.9 350.3L1057.9 342.5L1058.9 335.6L1059.8 329.5L1060.8 322.6L1061.8 315.2L1062.7 309.4L1063.7 302.3L1064.7 297.1L1065.6 290.9L1066.6 285.1L1067.6 278.6L1068.5 273.5L1069.5 268.8L1070.5 262.9L1071.4 258.8L1072.4 253.9L1073.4 249.6L1074.3 245L1075.3 241.5L1076.3 237.5L1077.2 234L1078.2 231.1L1079.2 226.7L1080.1 223.5L1081.1 220L1082.1 218.1L1083 214.5L1084 212.2L1085 208.8L1085.9 206.6L1086.9 204.6L1087.9 202.2L1088.8 199.7L1089.8 198L1090.8 195.6L1091.7 193.9L1092.7 191.4L1093.7 189.8L1094.6 187.4L1095.6 186.3L1096.6 184L1097.5 182.2L1098.5 180.3L1099.5 179.2L1100.4 177.3L1101.4 175.6L1102.4 174.8L1103.3 172.5L1104.3 171.9L1105.3 170.9L1106.2 168.4L1107.2 168.3L1108.2 167.2L1109.1 166.1L1110.1 165.3L1111.1 164L1112 164L1113 163.3L1114 162.2L1114.9 162.4L1115.9 161.7L1116.9 162.1L1117.8 161.7L1118.8 162.2L1119.8 161.8L1120.7 162.5L1121.7 163L1122.7 163.7L1123.6 164.9L1124.6 166.1L1125.6 165.6L1126.5 167.6L1127.5 168.3L1128.5 169.5L1129.4 170.9L1130.4 172.4L1131.4 174L1132.3 176L1133.3 177.9L1134.3 179.3L1135.2 181L1136.2 183.2L1137.2 185.1L1138.1 187.8L1139.1 188.8L1140.1 190.9L1141 193.6L1142 196.2L1143 198.4L1143.9 201L1144.9 202.5L1145.9 205.8L1146.8 208.5L1147.8 210.9L1148.8 214L1149.7 217L1150.7 220.1L1151.7 222.5L1152.6 225.3L1153.6 229.1L1154.6 232.9L1155.5 235.3L1156.5 238.6L1157.5 241.4L1158.4 245.2L1159.4 249.2L1160.4 251.2L1161.3 255.9L1162.3 258.3L1163.3 263.3L1164.2 266.7L1165.2 269.9L1166.2 273.9L1167.1 278.2L1168.1 281L1169 285.8L1170 289.5L1171 293.3L1171.9 297.9L1172.9 300.8L1173.9 305.5L1174.8 309.2L1175.8 313.9L1176.8 318.4L1177.7 321.8L1178.7 326.9L1179.7 331.3L1180.6 335.3L1181.6 340L1182.6 344.9L1183.5 349.1L1184.5 354.2L1185.5 357.7L1186.4 362.3L1187.4 367.9L1188.4 371.5L1189.3 377.2L1190.3 381.4L1191.3 386.4L1192.2 390.7L1193.2 396L1194.2 400.9L1195.1 405.7L1196.1 410.2L1197.1 414.2L1198 420L1199 424.4L1200 429.7L1200.9 433.4L1201.9 439L1202.9 443.5L1203.8 448.4L1204.8 453.6L1205.8 458.3L1206.7 463.4L1207.7 467.8L1208.7 472.6L1209.6 477.2L1210.6 481.4L1211.6 487L1212.5 490.9L1213.5 495.7L1214.5 500.7L1215.4 504.9L1216.4 509.6L1217.4 513.3L1218.3 518.5L1219.3 522.9L1220.3 527.6L1221.2 532.5L1222.2 536.6L1223.2 541L1224.1 545.4L1225.1 550.1L1226.1 554.4L1227 558.5L1228 562.4L1229 567.1L1229.9 570.8L1230.9 575L1231.9 579.4L1232.8 583.2L1233.8 587.1L1234.8 591.1L1235.7 595.5L1236.7 599.8L1237.7 604L1238.6 607.4L1239.6 611.8L1240.6 615.7L1241.5 619.5L1242.5 624.6L1243.5 627.2L1244.4 631.1L1245.4 635.4L1246.4 639.8L1247.3 642.9L1248.3 647.5L1249.3 650.4L1250.2 654.5L1251.2 658.4L1252.2 662.2L1253.1 666.2L1254.1 669.9L1255.1 673.7L1256 677.2L1257 681.6L1258 685.2L1258.9 689L1259.9 693.2L1260.9 696.7L1261.8 700.4L1262.8 704.7L1263.8 707.7L1264.7 711.1L1265.7 715.3L1266.7 718.8L1267.6 723L1268.6 726.8L1269.6 730.6L1270.5 734.6L1271.5 738.5L1272.5 742.2L1273.4 745.9L1274.4 749.5L1275.4 753.2L1276.3 757.1L1277.3 760.7L1278.3 764.1L1279.2 768.1L1280.2 772.2L1281.2 775.6L1282.1 778.9L1283.1 782.9L1284.1 786.7L1285 789.6L1286 794.1L1286.9 797.4L1287.9 800.4L1288.9 804.3L1289.8 807.4L1290.8 810.9L1291.8 813.6L1292.7 817L1293.7 820.3L1294.7 823.5L1295.6 826.5L1296.6 829.1L1297.6 832.3L1298.5 835.7L1299.5 838.3L1300.5 841.8L1301.4 844.4L1302.4 846.5L1303.4 849.2L1304.3 850.9L1305.3 854.2L1306.3 856.7L1307.2 858.2L1308.2 860.4L1309.2 862.5L1310.1 865L1311.1 867.1L1312.1 868.3L1313 870.5L1314 872.8L1315 874.7L1315.9 876.5L1316.9 878.9L1317.9 880.5L1318.8 882.6L1319.8 885.7L1320.8 888.2L1321.7 891L1322.7 893L1323.7 895.5L1324.6 898.9L1325.6 901.9L1326.6 905L1327.5 908.1L1328.5 912.4L1329.5 914.8L1330.4 918.9L1331.4 920.3L1332.4 923.2L1333.3 928.2L1334.3 929.1L1335.3 932.2L1336.2 935.1L1337.2 937L1338.2 942.4L1339.1 946.6L1340.1 947.7L1341.1 950.5L1342 951.2L1343 952.6L1344 956.7L1344.9 956.5L1345.9 957.9L1346.9 960.7L1347.8 965.2L1348.8 966.1L1349.8 967L1350.7 967.5L1351.7 969.3L1352.7 972.7L1353.6 973.7L1354.6 974.3L1355.6 978.6L1356.5 977.6L1357.5 977.7L1358.5 981.2L1359.4 984.6L1360.4 985.6L1361.4 987.4L1362.3 986.3L1363.3 989.6L1364.3 990.6L1365.2 991.6L1366.2 991.7L1367.2 996.7L1368.1 996.5L1369.1 997L1370.1 1000.5L1371 1004.7L1372 1000.1L1373 1004.3L1373.9 1008.2L1374.9 1009.9L1375.9 1007L1376.8 1009.4L1377.8 1008.6L1378.8 1013.4L1379.7 1012.5L1380.7 1014.9L1381.7 1020.4L1382.6 1017.7L1383.6 1018.3L1384.6 1022.7L1385.5 1024.4L1386.5 1025.9L1387.5 1028.7L1388.4 1027L1389.4 1029.1L1390.4 1031.4L1391.3 1030.7L1392.3 1034.6L1393.3 1034.7L1394.2 1033.9L1395.2 1034.4L1396.2 1035.7L1397.1 1037.2L1398.1 1034.5L1399.1 1037.1L1400 1039.6L1401 1041.7L1401.9 1044.8L1402.9 1047.9L1403.9 1052.3L1404.8 1055.2L1405.8 1061.5L1406.8 1066.9L1407.7 1070.4L1408.7 1071.2L1409.7 1070.4L1410.6 1072.7L1411.6 1069.9L1412.6 1070.5L1413.5 1070.8L1414.5 1069L1415.5 1065.2L1416.4 1066.2L1417.4 1070.8L1418.4 1063.7L1419.3 1068.6L1420.3 1064L1421.3 1065.9L1422.2 1067.8L1423.2 1065.8L1424.2 1073.3L1425.1 1071.7L1426.1 1079.8L1427.1 1083L1428 1089.5L1429 1095.2L1430 1101.7L1430.9 1108.7L1431.9 1114L1432.9 1122.3L1433.8 1138.5L1434.8 1147.8L1435.8 1139.4L1436.7 1125.6L1437.7 1119.2L1438.7 1117.7L1439.6 1118.5L1440.6 1118.4L1441.6 1112.9L1442.5 1118.2L1443.5 1113.9L1444.5 1118.5L1445.4 1117.3L1446.4 1122.3L1447.4 1119.3L1448.3 1117.2L1449.3 1118.6L1450.3 1120.2L1451.2 1122.4L1452.2 1123.6L1453.2 1119.5L1454.1 1119.8L1455.1 1125.7L1456.1 1124.4L1457 1128.5L1458 1127.9L1459 1132.7L1459.9 1131.2L1460.9 1128.6L1461.9 1135.4L1462.8 1142.6L1463.8 1140.4L1464.8 1143L1465.7 1143.1L1466.7 1141.7L1467.7 1138L1468.6 1128.2L1469.6 1133.6L1470.6 1126.2L1471.5 1127.7L1472.5 1123.8L1473.5 1127.8L1474.4 1124.1L1475.4 1124.5L1476.4 1125L1477.3 1124L1478.3 1123.2L1479.3 1130.2L1480.2 1129.2L1481.2 1131.3L1482.2 1125.7L1483.1 1126.7L1484.1 1138.7L1485.1 1137.8L1486 1133L1487 1141.8L1488 1143.4L1488.9 1142.7L1489.9 1146.4L1490.9 1154.2L1491.8 1147.6L1492.8 1150.8L1493.8 1146L1494.7 1142.4L1495.7 1151.7L1496.7 1144.5L1497.6 1139.1L1498.6 1137.2L1499.6 1134.3L1500.5 1129L1501.5 1131.2L1502.5 1131.5L1503.4 1128.8L1504.4 1130.5L1505.4 1127.8L1506.3 1133.3L1507.3 1128.2L1508.3 1134.9L1509.2 1140.6L1510.2 1137L1511.2 1147.1L1512.1 1138L1513.1 1142.3L1514.1 1145.1L1515 1150L1516 1153L1516.9 1152.7L1517.9 1151.2L1518.9 1163L1519.8 1163.9L1520.8 1166.7L1521.8 1161L1522.7 1166.9L1523.7 1164.9L1524.7 1167.8L1525.6 1169.6L1526.6 1161.9L1527.6 1163.7L1528.5 1163.8L1529.5 1161.4L1530.5 1165.1L1531.4 1165.1L1532.4 1161.2L1533.4 1161.4L1534.3 1164.7L1535.3 1159.1L1536.3 1165.3L1537.2 1167.1L1538.2 1167.4L1539.2 1162.6L1540.1 1170.7L1541.1 1172.3L1542.1 1164.5L1543 1174.1L1544 1174.8L1545 1175.5L1545.9 1172.6L1546.9 1179.3L1547.9 1174.5L1548.8 1178.8L1549.8 1182L1550.8 1182.2L1551.7 1180.9L1552.7 1183.6L1553.7 1182.9L1554.6 1184.5L1555.6 1181.9L1556.6 1180.7L1557.5 1182.1L1558.5 1179.7L1559.5 1185.6L1560.4 1189L1561.4 1183L1562.4 1183.8L1563.3 1177.2L1564.3 1179.8L1565.3 1178.5L1566.2 1186.1L1567.2 1188L1568.2 1188.4L1569.1 1198.2L1570.1 1196.1L1571.1 1199.7L1572 1200.9L1573 1203.2L1574 1203.5L1574.9 1200.7L1575.9 1200.8L1576.9 1200.6L1577.8 1200.8L1578.8 1211.1L1579.8 1208.8L1580.7 1218.7L1581.7 1215.1L1582.7 1216.1L1583.6 1221.2L1584.6 1218.4L1585.6 1216.9L1586.5 1223.8L1587.5 1215.9L1588.5 1217.3L1589.4 1221.5L1590.4 1223.8L1591.4 1219.4L1592.3 1216.8L1593.3 1225L1594.3 1218.4L1595.2 1216.3L1596.2 1218.1L1597.2 1220.8L1598.1 1209.6L1599.1 1215.3L1600.1 1222L1601 1223.9L1602 1225.1L1603 1227L1603.9 1231L1604.9 1233.9L1605.9 1230.8L1606.8 1232.5L1607.8 1237.2L1608.8 1235.4L1609.7 1233.8L1610.7 1237.9L1611.7 1236.2L1612.6 1241.7L1613.6 1243.1L1614.6 1239.6L1615.5 1241.7L1616.5 1243.6L1617.5 1246.6L1618.4 1246.3L1619.4 1244.5L1620.4 1244.8L1621.3 1247.6L1622.3 1245.7L1623.3 1245.4L1624.2 1241L1625.2 1244.5L1626.2 1245.3L1627.1 1244.3L1628.1 1241.2L1629.1 1239.3L1630 1246.6L1631 1247.4L1632 1247L1632.9 1245.2L1633.9 1247.3L1634.8 1249.2L1635.8 1252.1L1636.8 1250.7L1637.7 1248.5L1638.7 1249.7L1639.7 1248.2L1640.6 1256.7L1641.6 1249.9L1642.6 1256.1L1643.5 1253L1644.5 1257.1L1645.5 1248L1646.4 1251.4L1647.4 1244.9L1648.4 1243.2L1649.3 1242.5L1650.3 1240.6L1651.3 1242.3L1652.2 1245L1653.2 1251.7L1654.2 1247.6L1655.1 1246.4L1656.1 1254.3L1657.1 1258.3L1658 1249.1L1659 1259.6L1660 1256.8L1660.9 1258.1L1661.9 1267.4L1662.9 1271.4L1663.8 1273.2L1664.8 1268.1L1665.8 1266.4L1666.7 1267L1667.7 1266.9L1668.7 1266.4L1669.6 1266.1L1670.6 1261.8L1671.6 1260.7L1672.5 1258L1673.5 1252.7L1674.5 1253.1L1675.4 1253L1676.4 1248.5L1677.4 1238.8L1678.3 1248.8L1679.3 1242.7L1680.3 1252.6L1681.2 1253.6L1682.2 1251.2L1683.2 1256.2L1684.1 1250.2L1685.1 1253.1L1686.1 1252.4L1687 1255.9L1688 1255.5L1689 1256.3L1689.9 1256.3L1690.9 1260.4L1691.9 1256.3L1692.8 1254.3L1693.8 1253.7L1694.8 1251.4L1695.7 1247.5L1696.7 1239.4L1697.7 1237.2L1698.6 1234.9L1699.6 1231.5L1700.6 1229.4L1701.5 1232.3L1702.5 1226.8L1703.5 1233.7L1704.4 1231.2L1705.4 1234.4L1706.4 1235.4L1707.3 1241.7L1708.3 1242.5L1709.3 1243.8L1710.2 1238.3L1711.2 1237.4L1712.2 1242.2L1713.1 1238.1L1714.1 1242.1L1715.1 1241.5L1716 1244.8L1717 1248.2L1718 1243.9L1718.9 1248.3L1719.9 1248.4L1720.9 1248.1L1721.8 1247.9L1722.8 1243.8L1723.8 1242.8L1724.7 1240L1725.7 1234.7L1726.7 1241.6L1727.6 1238.1L1728.6 1237.3L1729.6 1232.8L1730.5 1229L1731.5 1234.1L1732.5 1230.2L1733.4 1237.5L1734.4 1237L1735.4 1230.4L1736.3 1235.7L1737.3 1234.2L1738.3 1232.6L1739.2 1229.3L1740.2 1236.5L1741.2 1238.3L1742.1 1239.3L1743.1 1236L1744.1 1238.1L1745 1238.5L1746 1238.7L1747 1237.2L1747.9 1242.3L1748.9 1241.1L1749.8 1238.6L1750.8 1241.1L1751.8 1242.8L1752.7 1241.1L1753.7 1241L1754.7 1242.3L1755.6 1237.6L1756.6 1241.2L1757.6 1236.7L1758.5 1238.5L1759.5 1240.6L1760.5 1235L1761.4 1238.9L1762.4 1236.8L1763.4 1238.3L1764.3 1229.8L1765.3 1222.7L1766.3 1231L1767.2 1239.4L1768.2 1234.2L1769.2 1232.5L1770.1 1233.2L1771.1 1234.3L1772.1 1232.3L1773 1239.2L1774 1232.7L1775 1228.3L1775.9 1228.1L1776.9 1231.1L1777.9 1231.1L1778.8 1233.1L1779.8 1233.1L1780.8 1232.9L1781.7 1226.6L1782.7 1230.2L1783.7 1226.6L1784.6 1228.4L1785.6 1224.2L1786.6 1230L1787.5 1229.2L1788.5 1225.2L1789.5 1220.4L1790.4 1225.2L1791.4 1222.2L1792.4 1216.9L1793.3 1222.2L1794.3 1222.8L1795.3 1222.1L1796.2 1216.3L1797.2 1224.4L1798.2 1226.4L1799.1 1223.4L1800.1 1229.7L1801.1 1229.6L1802 1232.4L1803 1226.1L1804 1231.4L1804.9 1234.7L1805.9 1230.3L1806.9 1236.2L1807.8 1242L1808.8 1233.8L1809.8 1243.2L1810.7 1242.4L1811.7 1237.6L1812.7 1237.8L1813.6 1237.3L1814.6 1240.2L1815.6 1232L1816.5 1240L1817.5 1233L1818.5 1235.7L1819.4 1235L1820.4 1238.2L1821.4 1232.9L1822.3 1233.1L1823.3 1238.7L1824.3 1239.8L1825.2 1234.7L1826.2 1233.6L1827.2 1235.2L1828.1 1234.5L1829.1 1234.2L1830.1 1231.2L1831 1227.6L1832 1234.6L1833 1234L1833.9 1238.2L1834.9 1239.2L1835.9 1242L1836.8 1237.2L1837.8 1242.2L1838.8 1237.8L1839.7 1243.3L1840.7 1244.9L1841.7 1241.7L1842.6 1243.5L1843.6 1250.6L1844.6 1240.7L1845.5 1245.6L1846.5 1240.9L1847.5 1243.8L1848.4 1232.9L1849.4 1235.8L1850.4 1238.2L1851.3 1243.1L1852.3 1237.2L1853.3 1233.5L1854.2 1235.2L1855.2 1238.1L1856.2 1230.7L1857.1 1234.7L1858.1 1233.4L1859.1 1232.2L1860 1234.1L1861 1230.3L1862 1233.8L1862.9 1233.8L1863.9 1236.9L1864.8 1233.2L1865.8 1232.8L1866.8 1231L1867.7 1234L1868.7 1233.3L1869.7 1242.3L1870.6 1232.7L1871.6 1241.2L1872.6 1241.3L1873.5 1241.6L1874.5 1237.8L1875.5 1244.8L1876.4 1236.5L1877.4 1231.9L1878.4 1233.6L1879.3 1232.5L1880.3 1237.5L1881.3 1232.7L1882.2 1229.3L1883.2 1228.3L1884.2 1229.5L1885.1 1227.6L1886.1 1227.7L1887.1 1229.9L1888 1222L1889 1223.1L1890 1224.9L1890.9 1219L1891.9 1224.2L1892.9 1225.5L1893.8 1220.9L1894.8 1222L1895.8 1217.6L1896.7 1217.4L1897.7 1216.6L1898.7 1214L1899.6 1216.1L1900.6 1210L1901.6 1213.2L1902.5 1209.4L1903.5 1216.4L1904.5 1217.5L1905.4 1216.4L1906.4 1213.1L1907.4 1215.7L1908.3 1210.6L1909.3 1219.6L1910.3 1213.6L1911.2 1210L1912.2 1209.2L1913.2 1202.1L1914.1 1202.5L1915.1 1202.1L1916.1 1201.8L1917 1203.1L1918 1192L1919 1195.6L1919.9 1190.5L1920.9 1189.5L1921.9 1194.5L1922.8 1194.6L1923.8 1192L1924.8 1198L1925.7 1205.6L1926.7 1199.2L1927.7 1201L1928.6 1208.7L1929.6 1207.9L1930.6 1207L1931.5 1212.8L1932.5 1212.1L1933.5 1213.6L1934.4 1219.4L1935.4 1218.2L1936.4 1225.8L1937.3 1231L1938.3 1227.5L1939.3 1231.3L1940.2 1235.4L1941.2 1241.5L1942.2 1242.6L1943.1 1248.4L1944.1 1253.5L1945.1 1250.3L1946 1255L1947 1257.1L1948 1254.4L1948.9 1246.9L1949.9 1251L1950.9 1242.5L1951.8 1247.4L1952.8 1239.9L1953.8 1247.1L1954.7 1245.4L1955.7 1246.5L1956.7 1247.6L1957.6 1247.1L1958.6 1252.3L1959.6 1252.3L1960.5 1255.1L1961.5 1251.2L1962.5 1256.7L1963.4 1258.6L1964.4 1254.2L1965.4 1261.9L1966.3 1264.3L1967.3 1258L1968.3 1260.6L1969.2 1272.2L1970.2 1267.7L1971.2 1267.9L1972.1 1267.2L1973.1 1273.5L1974.1 1271.9L1975 1275.9L1976 1277L1977 1279.5L1977.9 1281.9L1978.9 1280.9L1979.9 1284.8L1980.8 1286.7L1981.8 1285.4L1982.7 1284.9L1983.7 1288.6L1984.7 1293L1985.6 1288.4L1986.6 1288.1L1987.6 1291L1988.5 1289.4L1989.5 1291.7L1990.5 1292.1L1991.4 1291.2L1992.4 1294.5L1993.4 1291.5L1994.3 1292.3L1995.3 1290L1996.3 1293L1997.2 1296.3L1998.2 1299.3L1999.2 1305L2000.1 1295.8L2001.1 1294.4L2002.1 1300.4L2003 1289L2004 1294.1L2005 1290.7L2005.9 1292.9L2006.9 1285.8L2007.9 1284.7L2008.8 1277L2009.8 1277.8L2010.8 1277.5L2011.7 1274.5L2012.7 1273.1L2013.7 1277.3L2014.6 1269L2015.6 1267.7L2016.6 1267.7L2017.5 1269.5L2018.5 1268.9L2019.5 1271.2L2020.4 1270.9L2021.4 1279L2022.4 1272.7L2023.3 1274.9L2024.3 1277.1L2025.3 1281.7L2026.2 1273.3L2027.2 1270.7L2028.2 1273.5L2029.1 1267.7L2030.1 1262.9L2031.1 1261.6L2032 1263.4L2033 1259.3L2034 1265.1L2034.9 1262L2035.9 1264.7L2036.9 1259.7L2037.8 1257.4L2038.8 1259.8L2044.8 1259.8" stroke="#85060f" stroke-width="9.6"/>
<path d="M293.3 690.6L299.3 690.6L300.3 696.2L301.2 704L302.2 708L303.2 708.7L304.1 714.7L305.1 715.1L306.1 717.8L307 721L308 720.2L309 719.8L309.9 721.8L310.9 725.6L311.9 723.3L312.8 727L313.8 728.4L314.8 727.6L315.7 731L316.7 733.3L317.7 733.2L318.6 735.4L319.6 738.5L320.6 737.3L321.5 739.3L322.5 743.3L323.5 743.5L324.4 742.8L325.4 746.3L326.4 750.6L327.3 747.2L328.3 752.1L329.3 753.6L330.2 753.9L331.2 756.6L332.2 756.4L333.1 761.3L334.1 763.3L335.1 761.2L336 763.9L337 766.1L338 766.7L338.9 769.9L339.9 769.6L340.9 773.7L341.8 774.1L342.8 776.2L343.8 778.8L344.7 781.2L345.7 780.1L346.7 784.4L347.6 786.3L348.6 786.5L349.6 790.7L350.5 788.9L351.5 790.9L352.5 793.9L353.4 794L354.4 798.6L355.4 798.4L356.3 802.2L357.3 799.6L358.2 801.3L359.2 806.1L360.2 804L361.1 808.5L362.1 807L363.1 809.9L364 812.5L365 811.9L366 811.4L366.9 813.5L367.9 817L368.9 816.6L369.8 818.3L370.8 818.3L371.8 819.4L372.7 819.5L373.7 819L374.7 822L375.6 822.1L376.6 819.4L377.6 823L378.5 824.9L379.5 826.8L380.5 822.4L381.4 825L382.4 826L383.4 826.7L384.3 824.9L385.3 827L386.3 825.9L387.2 826.8L388.2 826.3L389.2 827.8L390.1 827L391.1 828.3L392.1 828L393 829.8L394 831.2L395 828.8L395.9 828.1L396.9 829.1L397.9 829L398.8 827.6L399.8 830.4L400.8 829.9L401.7 832.3L402.7 831.1L403.7 833L404.6 833.1L405.6 831.6L406.6 832.2L407.5 832.2L408.5 832.7L409.5 835L410.4 833.3L411.4 833.8L412.4 833.6L413.3 837.3L414.3 835L415.3 835.7L416.2 835L417.2 837.1L418.2 835.9L419.1 836.5L420.1 834.8L421.1 835.8L422 839L423 840.2L424 837L424.9 840.1L425.9 840.6L426.9 845.3L427.8 839.6L428.8 840.5L429.8 840.4L430.7 843.6L431.7 844.3L432.7 842.8L433.6 845.9L434.6 847.2L435.6 843.8L436.5 845.7L437.5 845L438.5 844.8L439.4 845.5L440.4 846.3L441.4 845.1L442.3 847.4L443.3 849.1L444.3 847L445.2 848L446.2 847.9L447.2 850.3L448.1 850L449.1 852L450.1 850.6L451 849.3L452 852.8L453 852L453.9 854.6L454.9 854.4L455.9 849.8L456.8 851.3L457.8 854.7L458.8 854L459.7 852.2L460.7 855.2L461.7 858.4L462.6 857.9L463.6 856.1L464.6 858.3L465.5 859.8L466.5 858.5L467.5 861.9L468.4 858.6L469.4 863.3L470.4 862.9L471.3 861.9L472.3 861.9L473.2 862.1L474.2 861.1L475.2 864.4L476.1 865.3L477.1 865L478.1 864.8L479 865L480 863.9L481 864.7L481.9 864L482.9 867.4L483.9 865.8L484.8 868.8L485.8 867L486.8 870.6L487.7 871.3L488.7 871.7L489.7 871.6L490.6 869.9L491.6 870.3L492.6 870.1L493.5 872.2L494.5 874.7L495.5 871L496.4 876.7L497.4 872.7L498.4 872.2L499.3 874.9L500.3 876.5L501.3 874.8L502.2 874.2L503.2 878.9L504.2 875L505.1 878.6L506.1 877.8L507.1 877.4L508 878.5L509 877.3L510 877.7L510.9 880.2L511.9 878.6L512.9 879.5L513.8 883.2L514.8 884.2L515.8 883.6L516.7 883.7L517.7 882.4L518.7 883.4L519.6 882.5L520.6 879.9L521.6 884.8L522.5 885.2L523.5 886.8L524.5 883.9L525.4 887.9L526.4 885.7L527.4 885.1L528.3 887L529.3 889.2L530.3 888.2L531.2 889.2L532.2 887.6L533.2 890.1L534.1 891.2L535.1 888.8L536.1 891.2L537 888.9L538 891.6L539 889.4L539.9 892.7L540.9 892.4L541.9 891.1L542.8 893.7L543.8 892.1L544.8 894L545.7 892.9L546.7 895.4L547.7 894.2L548.6 897.5L549.6 896.4L550.6 896.9L551.5 894.4L552.5 893.6L553.5 895.9L554.4 900.1L555.4 896.4L556.4 899.9L557.3 900.3L558.3 897.9L559.3 898.7L560.2 901.3L561.2 899.3L562.2 899.4L563.1 899.4L564.1 900.7L565.1 900.7L566 903L567 901.8L568 903.5L568.9 901.9L569.9 906.1L570.9 902.4L571.8 902.6L572.8 901.9L573.8 900.8L574.7 902.3L575.7 904.2L576.7 902.6L577.6 905.6L578.6 902.1L579.6 902.3L580.5 905.5L581.5 905.8L582.5 903.8L583.4 907.3L584.4 907.9L585.4 906.6L586.3 904.3L587.3 908.3L588.3 906.2L589.2 906.5L590.2 907.7L591.1 906L592.1 909.5L593.1 906.5L594 909.1L595 908.8L596 910.4L596.9 908.7L597.9 909.3L598.9 907.5L599.8 907.9L600.8 907.4L601.8 909.5L602.7 907.5L603.7 910.8L604.7 908.4L605.6 906.9L606.6 907.7L607.6 910.5L608.5 908.1L609.5 909.7L610.5 906.5L611.4 909.5L612.4 910L613.4 909.6L614.3 910L615.3 907.3L616.3 906.3L617.2 906.8L618.2 909.9L619.2 909.2L620.1 909.7L621.1 907.6L622.1 909.5L623 905.8L624 908.6L625 906.3L625.9 907L626.9 908.4L627.9 908.4L628.8 906.6L629.8 906L630.8 908.2L631.7 907.3L632.7 904.4L633.7 905.4L634.6 904.1L635.6 905.4L636.6 904L637.5 903.4L638.5 902.2L639.5 900.6L640.4 902.3L641.4 900.5L642.4 895.6L643.3 897.6L644.3 897.6L645.3 895.1L646.2 893.8L647.2 893.1L648.2 893.3L649.1 890.2L650.1 890.9L651.1 891L652 889L653 887.6L654 884.3L654.9 884.8L655.9 881.5L656.9 881.1L657.8 876.5L658.8 878.3L659.8 873.8L660.7 872.9L661.7 872.5L662.7 869.2L663.6 866.6L664.6 865.1L665.6 864.9L666.5 862.9L667.5 860.2L668.5 856.3L669.4 854.6L670.4 854L671.4 852L672.3 847.8L673.3 845.7L674.3 845.5L675.2 843.8L676.2 840.2L677.2 836.2L678.1 837.9L679.1 833.4L680.1 831.8L681 825.8L682 825.5L683 824L683.9 822.4L684.9 818.4L685.9 815.1L686.8 812.6L687.8 812L688.8 810.6L689.7 808.1L690.7 803L691.7 802L692.6 800.5L693.6 799.6L694.6 796.6L695.5 793.9L696.5 788.9L697.5 790.4L698.4 786.5L699.4 784.7L700.4 781.3L701.3 779.8L702.3 777.6L703.3 775.5L704.2 772.9L705.2 773.1L706.1 771.5L707.1 767.9L708.1 765.8L709 764.2L710 763.4L711 764.4L711.9 761L712.9 762.4L713.9 757.3L714.8 756.5L715.8 756.1L716.8 755.3L717.7 756.2L718.7 757.5L719.7 753.8L720.6 754.9L721.6 756L722.6 757.2L723.5 754.3L724.5 755.4L725.5 756L726.4 754.6L727.4 755.5L728.4 754.7L729.3 754.5L730.3 755.4L731.3 758.3L732.2 759.3L733.2 758.6L734.2 757.6L735.1 761.6L736.1 761L737.1 764L738 763.3L739 762.8L740 765.1L740.9 765.9L741.9 770L742.9 766.5L743.8 770L744.8 771.8L745.8 771.1L746.7 775.7L747.7 777.5L748.7 779.4L749.6 781L750.6 781.5L751.6 784.4L752.5 784.4L753.5 786.7L754.5 788.7L755.4 790.3L756.4 792.6L757.4 792.9L758.3 795.4L759.3 796.6L760.3 799.3L761.2 801.4L762.2 802.1L763.2 806.7L764.1 809.2L765.1 809.5L766.1 811L767 812.2L768 814.9L769 817L769.9 820.3L770.9 821.7L771.9 824.8L772.8 827L773.8 828.1L774.8 829.6L775.7 832.3L776.7 835L777.7 838.8L778.6 842.9L779.6 843L780.6 847.6L781.5 849.4L782.5 853.9L783.5 857.8L784.4 859.3L785.4 861.4L786.4 864.5L787.3 868.3L788.3 869.6L789.3 872.1L790.2 876.1L791.2 880.6L792.2 881.4L793.1 886.2L794.1 889.1L795.1 891.2L796 893.8L797 896.2L798 899.8L798.9 904.1L799.9 907.7L800.9 909.7L801.8 912.9L802.8 916L803.8 921.6L804.7 921.8L805.7 924.9L806.7 929.9L807.6 931.5L808.6 936.1L809.6 938L810.5 942.3L811.5 945.6L812.5 947.5L813.4 950.8L814.4 953.2L815.4 957.3L816.3 959.6L817.3 962.2L818.3 965.8L819.2 968.7L820.2 971.3L821.2 973.9L822.1 977.4L823.1 979.4L824 982L825 985.1L826 988.1L826.9 990.3L827.9 992.8L828.9 995.2L829.8 997.9L830.8 1000.5L831.8 1004.3L832.7 1005L833.7 1008.1L834.7 1010.7L835.6 1012.7L836.6 1014.9L837.6 1018.1L838.5 1020.8L839.5 1022.9L840.5 1024.6L841.4 1026.6L842.4 1029.3L843.4 1030.3L844.3 1032.8L845.3 1036L846.3 1037.5L847.2 1039.4L848.2 1041.2L849.2 1043.1L850.1 1044.8L851.1 1047.3L852.1 1049.2L853 1051L854 1051.3L855 1054.9L855.9 1056.4L856.9 1058.4L857.9 1059L858.8 1059.8L859.8 1061.8L860.8 1063.6L861.7 1066.5L862.7 1066.6L863.7 1068.2L864.6 1070.3L865.6 1071.7L866.6 1073.1L867.5 1073.7L868.5 1076.1L869.5 1076.6L870.4 1077.2L871.4 1079L872.4 1079.3L873.3 1080.5L874.3 1081.9L875.3 1082.7L876.2 1084.1L877.2 1085.1L878.2 1086.1L879.1 1086.9L880.1 1088.8L881.1 1088.7L882 1089.8L883 1090.5L884 1091.5L884.9 1091.9L885.9 1094.4L886.9 1094L887.8 1095.3L888.8 1095.4L889.8 1095.6L890.7 1096.6L891.7 1097.2L892.7 1097.5L893.6 1098.8L894.6 1100.1L895.6 1100L896.5 1100.9L897.5 1101.6L898.5 1100.4L899.4 1102.8L900.4 1101.7L901.4 1103.7L902.3 1103.3L903.3 1103.9L904.3 1105L905.2 1104.8L906.2 1103.8L907.2 1104L908.1 1104.6L909.1 1106L910.1 1105.9L911 1106.5L912 1106.5L913 1107.1L913.9 1106.2L914.9 1105.9L915.9 1106.7L916.8 1107.6L917.8 1106.8L918.8 1106.2L919.7 1107.2L920.7 1107.9L921.7 1107.9L922.6 1107.6L923.6 1107.5L924.6 1106.7L925.5 1107.8L926.5 1108.7L927.5 1107.5L928.4 1108.5L929.4 1107L930.4 1107.3L931.3 1107.2L932.3 1107.3L933.3 1106.3L934.2 1107.6L935.2 1106.7L936.2 1105.6L937.1 1106.8L938.1 1106.3L939 1105.4L940 1105.7L941 1106L941.9 1105.6L942.9 1105.2L943.9 1104.3L944.8 1104.5L945.8 1104.7L946.8 1104.8L947.7 1103.6L948.7 1103.3L949.7 1103L950.6 1102L951.6 1100.8L952.6 1100.9L953.5 1100.6L954.5 1100.3L955.5 1099.7L956.4 1098.8L957.4 1098.3L958.4 1097.9L959.3 1097L960.3 1096.4L961.3 1095.3L962.2 1095.4L963.2 1094.9L964.2 1093.9L965.1 1093.4L966.1 1092.9L967.1 1091.6L968 1091.1L969 1090.2L970 1090.1L970.9 1088.6L971.9 1088.4L972.9 1086.5L973.8 1087.6L974.8 1086.2L975.8 1084.6L976.7 1084.1L977.7 1084.2L978.7 1082.5L979.6 1080.8L980.6 1080.5L981.6 1079.4L982.5 1078.9L983.5 1077.8L984.5 1075.9L985.4 1075.8L986.4 1075.1L987.4 1074.3L988.3 1072.7L989.3 1072.3L990.3 1071L991.2 1069.5L992.2 1068.7L993.2 1065.5L994.1 1066.1L995.1 1065L996.1 1062.9L997 1062.1L998 1060L999 1058.9L999.9 1057.5L1000.9 1055.6L1001.9 1054.6L1002.8 1052.4L1003.8 1051.7L1004.8 1051L1005.7 1049.6L1006.7 1047L1007.7 1046.3L1008.6 1043.9L1009.6 1041.4L1010.6 1040L1011.5 1038.5L1012.5 1036.7L1013.5 1035.2L1014.4 1032.6L1015.4 1030.9L1016.4 1029.6L1017.3 1027.2L1018.3 1025.3L1019.3 1023L1020.2 1021.2L1021.2 1019.1L1022.2 1016.2L1023.1 1014.9L1024.1 1011.7L1025.1 1009.9L1026 1007.2L1027 1005.3L1028 1002.6L1028.9 1000.2L1029.9 997.5L1030.9 994.8L1031.8 992.3L1032.8 989.5L1033.8 986.3L1034.7 983.2L1035.7 981.4L1036.7 978.8L1037.6 974.8L1038.6 972.5L1039.6 968.9L1040.5 966.2L1041.5 963.4L1042.5 959.9L1043.4 956.4L1044.4 952.2L1045.4 949.7L1046.3 946.4L1047.3 943.5L1048.3 939L1049.2 935.7L1050.2 932.2L1051.2 929L1052.1 924L1053.1 921.2L1054 916.9L1055 912.6L1056 908.3L1056.9 904.5L1057.9 901.3L1058.9 896.5L1059.8 892.1L1060.8 888.2L1061.8 884.8L1062.7 880.3L1063.7 875.9L1064.7 871.6L1065.6 867.1L1066.6 862.1L1067.6 857.3L1068.5 854L1069.5 848.8L1070.5 844.4L1071.4 839.5L1072.4 835.4L1073.4 831.2L1074.3 825.7L1075.3 821.4L1076.3 816.7L1077.2 812.3L1078.2 807.3L1079.2 802.6L1080.1 797.6L1081.1 793.2L1082.1 788.1L1083 784.1L1084 779L1085 775.1L1085.9 769.3L1086.9 764.4L1087.9 760.6L1088.8 755.8L1089.8 750.1L1090.8 747.4L1091.7 741.3L1092.7 737.3L1093.7 731.9L1094.6 727.8L1095.6 723.4L1096.6 718L1097.5 713.8L1098.5 709.5L1099.5 705.6L1100.4 700.5L1101.4 696.2L1102.4 691.3L1103.3 686.9L1104.3 682.3L1105.3 677.4L1106.2 672.2L1107.2 667.8L1108.2 664.3L1109.1 659.9L1110.1 655.2L1111.1 650.4L1112 645.9L1113 641L1114 637.7L1114.9 631.8L1115.9 628.9L1116.9 623.3L1117.8 620.3L1118.8 614.7L1119.8 609.7L1120.7 605.3L1121.7 600.3L1122.7 596.7L1123.6 591.2L1124.6 586.6L1125.6 581.3L1126.5 577.2L1127.5 571.4L1128.5 567L1129.4 563L1130.4 556.5L1131.4 552.7L1132.3 548.1L1133.3 542.5L1134.3 538.1L1135.2 532.9L1136.2 527.3L1137.2 521.1L1138.1 516.3L1139.1 511.1L1140.1 506.4L1141 500.5L1142 495L1143 489.1L1143.9 484.2L1144.9 478.9L1145.9 472.1L1146.8 467.8L1147.8 462.5L1148.8 456.6L1149.7 451.2L1150.7 445.5L1151.7 440.7L1152.6 434.4L1153.6 429.8L1154.6 423.9L1155.5 417.3L1156.5 412.6L1157.5 407.4L1158.4 402.3L1159.4 396.5L1160.4 391.1L1161.3 386.2L1162.3 381.3L1163.3 374.3L1164.2 369.7L1165.2 365.7L1166.2 359.9L1167.1 354.2L1168.1 350.5L1169 345.7L1170 339.7L1171 335.3L1171.9 330.2L1172.9 325.6L1173.9 321.3L1174.8 316.1L1175.8 311.8L1176.8 307.2L1177.7 302.2L1178.7 299.1L1179.7 295.1L1180.6 290.7L1181.6 286.7L1182.6 283.1L1183.5 278.5L1184.5 274.6L1185.5 271.7L1186.4 267.9L1187.4 265.2L1188.4 260.2L1189.3 257.5L1190.3 253.6L1191.3 252L1192.2 247.6L1193.2 245.1L1194.2 240.5L1195.1 238.2L1196.1 236.2L1197.1 232.8L1198 229.9L1199 227.9L1200 224.9L1200.9 222.4L1201.9 219.9L1202.9 217.1L1203.8 215.8L1204.8 213.2L1205.8 210.3L1206.7 208L1207.7 205.1L1208.7 203.4L1209.6 202.6L1210.6 199.4L1211.6 197.8L1212.5 197L1213.5 194.9L1214.5 192.7L1215.4 191.1L1216.4 189L1217.4 187.7L1218.3 186L1219.3 185.2L1220.3 183.4L1221.2 181.2L1222.2 180.9L1223.2 179.3L1224.1 178.2L1225.1 177L1226.1 175.6L1227 174.2L1228 173.7L1229 172.6L1229.9 170.9L1230.9 170L1231.9 169.3L1232.8 168.6L1233.8 167.6L1234.8 166.2L1235.7 166.7L1236.7 165.2L1237.7 164.3L1238.6 163.9L1239.6 163.9L1240.6 163.3L1241.5 161.9L1242.5 161.9L1243.5 161.5L1244.4 161.7L1245.4 161.9L1246.4 161.4L1247.3 162.5L1248.3 161.9L1249.3 162.2L1250.2 161.9L1251.2 161L1252.2 162L1253.1 161.2L1254.1 161.7L1255.1 162.5L1256 162.8L1257 163.4L1258 163.4L1258.9 164.5L1259.9 164.9L1260.9 165.3L1261.8 165.3L1262.8 166.1L1263.8 167.6L1264.7 169.2L1265.7 168.4L1266.7 169.6L1267.6 169.9L1268.6 170.1L1269.6 172.6L1270.5 173.4L1271.5 174.8L1272.5 175.2L1273.4 176.3L1274.4 178.7L1275.4 178.7L1276.3 180.8L1277.3 182.3L1278.3 183.2L1279.2 184.4L1280.2 186.2L1281.2 186.8L1282.1 189L1283.1 190.6L1284.1 191.7L1285 193.9L1286 196.2L1286.9 198.6L1287.9 198.7L1288.9 201.3L1289.8 203.1L1290.8 204.6L1291.8 206.4L1292.7 208.9L1293.7 211L1294.7 211.9L1295.6 215.4L1296.6 216.7L1297.6 218.9L1298.5 220.7L1299.5 223.7L1300.5 224.6L1301.4 227.3L1302.4 229.8L1303.4 231.6L1304.3 234.2L1305.3 236.9L1306.3 239.5L1307.2 241.2L1308.2 243.5L1309.2 246.3L1310.1 248.6L1311.1 250.5L1312.1 253.9L1313 255.8L1314 258.1L1315 261.5L1315.9 263.9L1316.9 265.8L1317.9 269.1L1318.8 271L1319.8 273.7L1320.8 276.2L1321.7 279.7L1322.7 281.9L1323.7 285L1324.6 286.7L1325.6 289.9L1326.6 292L1327.5 295.3L1328.5 298.2L1329.5 301.1L1330.4 303.2L1331.4 307.3L1332.4 308.9L1333.3 313.1L1334.3 315.3L1335.3 318.8L1336.2 320.7L1337.2 324.2L1338.2 327.4L1339.1 331.1L1340.1 333.2L1341.1 336.9L1342 339.2L1343 342.8L1344 345.1L1344.9 348.2L1345.9 351.7L1346.9 353.7L1347.8 356.6L1348.8 360.6L1349.8 364.7L1350.7 367.5L1351.7 370L1352.7 373.5L1353.6 376.4L1354.6 379.7L1355.6 383.4L1356.5 385.4L1357.5 388.6L1358.5 391.5L1359.4 395.3L1360.4 399.5L1361.4 402.3L1362.3 405L1363.3 408.6L1364.3 412L1365.2 416.1L1366.2 419.2L1367.2 422.6L1368.1 426.4L1369.1 429.4L1370.1 433.1L1371 435.6L1372 439L1373 442.8L1373.9 447.4L1374.9 449.4L1375.9 453.5L1376.8 457.2L1377.8 460L1378.8 463.4L1379.7 468.6L1380.7 471.1L1381.7 474.5L1382.6 478.5L1383.6 481.9L1384.6 484.8L1385.5 488.2L1386.5 492.5L1387.5 495.8L1388.4 499.7L1389.4 502.7L1390.4 508.1L1391.3 510.5L1392.3 514.7L1393.3 516.9L1394.2 520.5L1395.2 523.7L1396.2 527.3L1397.1 530.8L1398.1 533.6L1399.1 536.5L1400 539.9L1401 543.3L1401.9 547L1402.9 548.8L1403.9 552.4L1404.8 556.2L1405.8 559.8L1406.8 561.8L1407.7 565.4L1408.7 568.1L1409.7 571.1L1410.6 574.5L1411.6 577.1L1412.6 580.4L1413.5 583.4L1414.5 588L1415.5 589.9L1416.4 594.4L1417.4 596L1418.4 599.2L1419.3 601L1420.3 604.4L1421.3 607.9L1422.2 610.5L1423.2 610.8L1424.2 618.2L1425.1 620.4L1426.1 625.3L1427.1 630.5L1428 634L1429 637.5L1430 643.5L1430.9 648.2L1431.9 657.1L1432.9 660.8L1433.8 664.3L1434.8 679.5L1435.8 687.2L1436.7 688.2L1437.7 686L1438.7 697.2L1439.6 690.5L1440.6 691.1L1441.6 691.1L1442.5 693.2L1443.5 693.3L1444.5 695L1445.4 696.6L1446.4 697L1447.4 701L1448.3 698.2L1449.3 704.6L1450.3 705.8L1451.2 707.8L1452.2 713.2L1453.2 717L1454.1 721.8L1455.1 724.4L1456.1 727L1457 728.8L1458 732.3L1459 736.4L1459.9 742L1460.9 742.2L1461.9 745.2L1462.8 744.6L1463.8 745.5L1464.8 750.6L1465.7 757.1L1466.7 751.9L1467.7 759.3L1468.6 756.5L1469.6 759L1470.6 762.2L1471.5 765L1472.5 771.2L1473.5 772.4L1474.4 774.7L1475.4 775.9L1476.4 781.4L1477.3 785.9L1478.3 785.4L1479.3 786.8L1480.2 788.4L1481.2 793.1L1482.2 794.4L1483.1 802.8L1484.1 801.6L1485.1 808.6L1486 807L1487 814.4L1488 816.8L1488.9 819.9L1489.9 821.4L1490.9 820.6L1491.8 829.9L1492.8 823.2L1493.8 829.7L1494.7 828.6L1495.7 828.3L1496.7 833.6L1497.6 836.5L1498.6 837.1L1499.6 834L1500.5 836.7L1501.5 841.1L1502.5 842.7L1503.4 846L1504.4 846.2L1505.4 845.6L1506.3 849L1507.3 853.9L1508.3 852.9L1509.2 853.6L1510.2 858.9L1511.2 861.9L1512.1 859.6L1513.1 862.6L1514.1 865.9L1515 872.2L1516 874.2L1516.9 878.1L1517.9 881.8L1518.9 882.8L1519.8 890.6L1520.8 893.4L1521.8 892.3L1522.7 893.9L1523.7 895.4L1524.7 896.2L1525.6 895.8L1526.6 899.7L1527.6 900.9L1528.5 902.6L1529.5 899.6L1530.5 902.9L1531.4 900.9L1532.4 908.2L1533.4 902.9L1534.3 907.1L1535.3 912.5L1536.3 908.6L1537.2 914.8L1538.2 913.8L1539.2 920.9L1540.1 920.1L1541.1 921.2L1542.1 922L1543 926.3L1544 927.1L1545 929.8L1545.9 931.7L1546.9 930.7L1547.9 934L1548.8 937.6L1549.8 937.6L1550.8 938.8L1551.7 939.6L1552.7 939.8L1553.7 942L1554.6 943.1L1555.6 949.3L1556.6 945.2L1557.5 945.1L1558.5 949L1559.5 949.1L1560.4 949.6L1561.4 953.7L1562.4 953.2L1563.3 953.4L1564.3 957.6L1565.3 961.9L1566.2 962.3L1567.2 962L1568.2 964L1569.1 965.4L1570.1 969.2L1571.1 969.9L1572 973.5L1573 975.1L1574 978.3L1574.9 976.6L1575.9 983.1L1576.9 984.7L1577.8 987.7L1578.8 991.7L1579.8 991L1580.7 994.1L1581.7 998.6L1582.7 1000.8L1583.6 1004.9L1584.6 1006.1L1585.6 1004.5L1586.5 1010.3L1587.5 1010.9L1588.5 1012.9L1589.4 1015.7L1590.4 1015L1591.4 1015.3L1592.3 1013.5L1593.3 1016.5L1594.3 1019.7L1595.2 1020L1596.2 1017.6L1597.2 1018.3L1598.1 1021.4L1599.1 1024.3L1600.1 1023.5L1601 1029.1L1602 1032.3L1603 1027.8L1603.9 1035.8L1604.9 1037.5L1605.9 1031.7L1606.8 1034.5L1607.8 1039.6L1608.8 1042.3L1609.7 1043.1L1610.7 1047L1611.7 1050.7L1612.6 1049.4L1613.6 1048.7L1614.6 1054.2L1615.5 1058.2L1616.5 1061.2L1617.5 1062L1618.4 1056.2L1619.4 1060.7L1620.4 1064.2L1621.3 1064.1L1622.3 1068.1L1623.3 1069.1L1624.2 1071.1L1625.2 1073.3L1626.2 1070.6L1627.1 1076.2L1628.1 1071.2L1629.1 1072.9L1630 1073.9L1631 1075.3L1632 1079.3L1632.9 1082.1L1633.9 1076.9L1634.8 1082.1L1635.8 1083.9L1636.8 1083L1637.7 1079.5L1638.7 1085.4L1639.7 1087.4L1640.6 1083.5L1641.6 1087.5L1642.6 1092.2L1643.5 1092.6L1644.5 1096L1645.5 1098.1L1646.4 1095L1647.4 1096.8L1648.4 1102.5L1649.3 1101.7L1650.3 1105.6L1651.3 1106.6L1652.2 1105.5L1653.2 1110.3L1654.2 1110.7L1655.1 1109.9L1656.1 1111.2L1657.1 1112L1658 1114.5L1659 1116.6L1660 1116.5L1660.9 1115.9L1661.9 1114.2L1662.9 1117.8L1663.8 1118.1L1664.8 1117.7L1665.8 1118L1666.7 1123.5L1667.7 1124.1L1668.7 1119.2L1669.6 1124.6L1670.6 1124.2L1671.6 1127.7L1672.5 1123.4L1673.5 1127.7L1674.5 1125.4L1675.4 1126.8L1676.4 1128.5L1677.4 1130.7L1678.3 1129.9L1679.3 1127.4L1680.3 1132.8L1681.2 1132L1682.2 1132.4L1683.2 1130.3L1684.1 1133.5L1685.1 1137.3L1686.1 1138.1L1687 1137.3L1688 1135.3L1689 1139.1L1689.9 1136.6L1690.9 1140.3L1691.9 1138.3L1692.8 1137L1693.8 1141.3L1694.8 1141.4L1695.7 1141.9L1696.7 1140.3L1697.7 1140.5L1698.6 1145.2L1699.6 1143.4L1700.6 1147.1L1701.5 1147.5L1702.5 1142.8L1703.5 1144.6L1704.4 1140.2L1705.4 1146.2L1706.4 1145.6L1707.3 1148L1708.3 1147.7L1709.3 1148.2L1710.2 1148.5L1711.2 1149.6L1712.2 1154.3L1713.1 1154.1L1714.1 1157.8L1715.1 1155.9L1716 1154.2L1717 1154.5L1718 1158.8L1718.9 1152.2L1719.9 1156.1L1720.9 1155.7L1721.8 1152.1L1722.8 1158.3L1723.8 1156.3L1724.7 1155.9L1725.7 1154.7L1726.7 1156.3L1727.6 1156.2L1728.6 1158.5L1729.6 1156L1730.5 1161.5L1731.5 1155.8L1732.5 1157.5L1733.4 1156.2L1734.4 1159.3L1735.4 1157.2L1736.3 1161.1L1737.3 1160.7L1738.3 1159.9L1739.2 1156.3L1740.2 1159.9L1741.2 1160.3L1742.1 1162.3L1743.1 1159.1L1744.1 1163.9L1745 1164.8L1746 1164.2L1747 1165.8L1747.9 1165.2L1748.9 1168.8L1749.8 1165.4L1750.8 1167L1751.8 1173.9L1752.7 1169.5L1753.7 1170.2L1754.7 1169.2L1755.6 1171.1L1756.6 1172.6L1757.6 1170.4L1758.5 1170.4L1759.5 1172.8L1760.5 1177.1L1761.4 1173.9L1762.4 1179.8L1763.4 1177.6L1764.3 1176.9L1765.3 1175.1L1766.3 1177.3L1767.2 1182.2L1768.2 1174.2L1769.2 1177.6L1770.1 1180.2L1771.1 1178.8L1772.1 1177.2L1773 1176.1L1774 1178.7L1775 1173.6L1775.9 1180.4L1776.9 1175.3L1777.9 1173.1L1778.8 1176.3L1779.8 1176.6L1780.8 1176.2L1781.7 1173.6L1782.7 1175.2L1783.7 1178L1784.6 1177.1L1785.6 1178.4L1786.6 1176.4L1787.5 1173.9L1788.5 1175.3L1789.5 1176L1790.4 1176.3L1791.4 1176.6L1792.4 1176.8L1793.3 1177.9L1794.3 1178.4L1795.3 1175.9L1796.2 1180.1L1797.2 1179.7L1798.2 1178.3L1799.1 1179.9L1800.1 1179.6L1801.1 1180.8L1802 1177.4L1803 1177.9L1804 1183.6L1804.9 1181.9L1805.9 1185.8L1806.9 1186.7L1807.8 1185.1L1808.8 1188.7L1809.8 1184.1L1810.7 1187L1811.7 1185L1812.7 1188.8L1813.6 1191.6L1814.6 1190.8L1815.6 1192.1L1816.5 1190.5L1817.5 1193.6L1818.5 1192.2L1819.4 1194.2L1820.4 1192.7L1821.4 1195.8L1822.3 1195.2L1823.3 1194.8L1824.3 1195.6L1825.2 1196.5L1826.2 1194.1L1827.2 1192.8L1828.1 1192.9L1829.1 1197.2L1830.1 1194.8L1831 1192L1832 1192.1L1833 1196.3L1833.9 1193.6L1834.9 1197.3L1835.9 1196.9L1836.8 1193.6L1837.8 1193.5L1838.8 1192.2L1839.7 1195.4L1840.7 1191.4L1841.7 1195L1842.6 1193.7L1843.6 1197.6L1844.6 1194.5L1845.5 1194.2L1846.5 1197.2L1847.5 1194.7L1848.4 1198.4L1849.4 1196.9L1850.4 1196.8L1851.3 1197.7L1852.3 1198.4L1853.3 1197L1854.2 1200.9L1855.2 1200.2L1856.2 1199.6L1857.1 1203.6L1858.1 1201.9L1859.1 1204.8L1860 1198.4L1861 1204.3L1862 1202L1862.9 1204.8L1863.9 1201.7L1864.8 1200.5L1865.8 1200.1L1866.8 1201.9L1867.7 1198.1L1868.7 1200.3L1869.7 1199L1870.6 1205.3L1871.6 1201.9L1872.6 1200.5L1873.5 1195.6L1874.5 1201L1875.5 1200.2L1876.4 1201.4L1877.4 1201.6L1878.4 1200.3L1879.3 1199.3L1880.3 1201.2L1881.3 1201.5L1882.2 1201.6L1883.2 1201.6L1884.2 1202.3L1885.1 1199.9L1886.1 1203L1887.1 1200.5L1888 1201.4L1889 1200.1L1890 1201.3L1890.9 1203.3L1891.9 1200.4L1892.9 1198.6L1893.8 1197.2L1894.8 1194.5L1895.8 1191.8L1896.7 1188.8L1897.7 1191.3L1898.7 1190.4L1899.6 1189L1900.6 1182.4L1901.6 1182.9L1902.5 1183.7L1903.5 1180.7L1904.5 1181.5L1905.4 1180.6L1906.4 1175.3L1907.4 1178.1L1908.3 1175.2L1909.3 1173.3L1910.3 1173.7L1911.2 1170.9L1912.2 1168L1913.2 1171.7L1914.1 1170.2L1915.1 1169.4L1916.1 1168L1917 1164.5L1918 1166.5L1919 1169L1919.9 1166.2L1920.9 1165L1921.9 1164.9L1922.8 1163.6L1923.8 1163.7L1924.8 1163.3L1925.7 1161.7L1926.7 1162.2L1927.7 1162.1L1928.6 1161.9L1929.6 1166.1L1930.6 1160.5L1931.5 1158.6L1932.5 1160.3L1933.5 1157.1L1934.4 1163.4L1935.4 1158.8L1936.4 1159.5L1937.3 1160.1L1938.3 1161.4L1939.3 1159.1L1940.2 1161.6L1941.2 1161.7L1942.2 1163.4L1943.1 1166.1L1944.1 1165.4L1945.1 1171L1946 1169.6L1947 1173.1L1948 1172.3L1948.9 1175.3L1949.9 1175.9L1950.9 1180.9L1951.8 1181.4L1952.8 1182.2L1953.8 1183.4L1954.7 1191.5L1955.7 1190.3L1956.7 1192.7L1957.6 1195.5L1958.6 1196L1959.6 1199.2L1960.5 1198.3L1961.5 1200.7L1962.5 1204.9L1963.4 1201.1L1964.4 1205L1965.4 1204.8L1966.3 1210.2L1967.3 1207.9L1968.3 1210L1969.2 1211L1970.2 1210.4L1971.2 1212.4L1972.1 1212.9L1973.1 1216.9L1974.1 1215L1975 1219.3L1976 1218.8L1977 1220.6L1977.9 1222.5L1978.9 1222.7L1979.9 1222.8L1980.8 1221.7L1981.8 1223.6L1982.7 1225.2L1983.7 1227.4L1984.7 1227L1985.6 1227.5L1986.6 1232.3L1987.6 1230.6L1988.5 1231.6L1989.5 1230.1L1990.5 1231.2L1991.4 1232L1992.4 1231.8L1993.4 1234.2L1994.3 1235.4L1995.3 1234.2L1996.3 1235.3L1997.2 1238.6L1998.2 1234.5L1999.2 1237.7L2000.1 1241.3L2001.1 1240.8L2002.1 1241.1L2003 1243.6L2004 1243.5L2005 1242.9L2005.9 1240.9L2006.9 1240.2L2007.9 1241.5L2008.8 1245.8L2009.8 1242.7L2010.8 1243.5L2011.7 1246.8L2012.7 1244.7L2013.7 1246.3L2014.6 1243.6L2015.6 1245.4L2016.6 1245.8L2017.5 1246L2018.5 1244.7L2019.5 1246.5L2020.4 1249.9L2021.4 1249L2022.4 1250.5L2023.3 1248.1L2024.3 1253L2025.3 1248.8L2026.2 1249.6L2027.2 1251.3L2028.2 1249.9L2029.1 1251.4L2030.1 1254.1L2031.1 1252.5L2032 1251.1L2033 1254.3L2034 1251.2L2034.9 1251.7L2035.9 1253.2L2036.9 1253.5L2037.8 1249.2L2038.8 1253.7L2044.8 1253.7" stroke="#e0771f" stroke-width="9.3"/>
<path d="M293.3 786.6L299.3 786.6L300.3 787.1L301.2 790.3L302.2 794.4L303.2 796.4L304.1 798.4L305.1 798.9L306.1 799.8L307 804.1L308 804.2L309 808.2L309.9 808.5L310.9 808.2L311.9 811.3L312.8 813.5L313.8 813.9L314.8 813.6L315.7 817.2L316.7 819.2L317.7 822L318.6 823.6L319.6 822.3L320.6 824.5L321.5 827.9L322.5 825L323.5 830.9L324.4 829.3L325.4 831.4L326.4 836.3L327.3 835L328.3 836L329.3 838.6L330.2 839.4L331.2 840L332.2 843.3L333.1 848.5L334.1 848L335.1 848.8L336 850.3L337 853.2L338 854.7L338.9 853.8L339.9 858.3L340.9 859.4L341.8 864.5L342.8 862.7L343.8 867.5L344.7 864.8L345.7 869.6L346.7 869.6L347.6 871.2L348.6 876.3L349.6 874.8L350.5 878.3L351.5 879.1L352.5 883L353.4 884.6L354.4 881.7L355.4 888.9L356.3 888.1L357.3 894.8L358.2 894.2L359.2 895.9L360.2 890.9L361.1 900.3L362.1 898.4L363.1 897.1L364 901.6L365 904.7L366 900.3L366.9 906.6L367.9 905L368.9 905.7L369.8 907L370.8 907.2L371.8 910.1L372.7 911.1L373.7 913.6L374.7 915.1L375.6 912.6L376.6 916.1L377.6 912.5L378.5 916.7L379.5 914.1L380.5 915.8L381.4 918.7L382.4 916.7L383.4 919.7L384.3 916.5L385.3 918.5L386.3 921.4L387.2 923.8L388.2 919.2L389.2 925L390.1 922.9L391.1 927.2L392.1 922.7L393 922.7L394 924.7L395 922.4L395.9 925.1L396.9 925.2L397.9 928.2L398.8 926.7L399.8 924L400.8 924.2L401.7 925.3L402.7 923.5L403.7 923.7L404.6 932.3L405.6 927L406.6 931.5L407.5 927.9L408.5 928.9L409.5 926.8L410.4 933L411.4 930.1L412.4 934.5L413.3 930.3L414.3 934.6L415.3 935.4L416.2 929.9L417.2 934.1L418.2 931.6L419.1 931.8L420.1 934.7L421.1 936.5L422 937.9L423 935L424 938.1L424.9 937.6L425.9 936.9L426.9 935.5L427.8 937.9L428.8 945.1L429.8 936.8L430.7 938.7L431.7 937.7L432.7 942.7L433.6 943.9L434.6 943.5L435.6 945.2L436.5 941.6L437.5 945.5L438.5 941L439.4 946.1L440.4 946.4L441.4 942.7L442.3 946.3L443.3 942.7L444.3 942.5L445.2 943L446.2 944.1L447.2 944.4L448.1 946.9L449.1 951.1L450.1 947.6L451 946.9L452 950.4L453 949L453.9 950.2L454.9 951.2L455.9 951.8L456.8 950L457.8 951.4L458.8 954.2L459.7 952.1L460.7 952.9L461.7 954.4L462.6 955.1L463.6 954.2L464.6 956.4L465.5 955.8L466.5 953.7L467.5 958L468.4 955.5L469.4 963.9L470.4 958.8L471.3 958.2L472.3 960.9L473.2 962.7L474.2 963.3L475.2 961.3L476.1 963.4L477.1 963.1L478.1 962.4L479 959.7L480 963.3L481 958.6L481.9 962.5L482.9 967.5L483.9 965.6L484.8 965.7L485.8 964.5L486.8 965.1L487.7 965.9L488.7 965L489.7 963.7L490.6 970.8L491.6 972.6L492.6 968.5L493.5 971.8L494.5 968.3L495.5 972L496.4 969L497.4 974.1L498.4 972.9L499.3 970.7L500.3 974.9L501.3 977.6L502.2 974.8L503.2 975.2L504.2 975.8L505.1 976.5L506.1 979.3L507.1 979.9L508 973.6L509 980.7L510 978.4L510.9 982.6L511.9 980.7L512.9 982.2L513.8 979.7L514.8 978.5L515.8 982.2L516.7 984.1L517.7 984.2L518.7 984.7L519.6 984.1L520.6 985.6L521.6 983L522.5 984.8L523.5 982.5L524.5 985.9L525.4 985.9L526.4 987.1L527.4 989.6L528.3 988.1L529.3 982.6L530.3 991.6L531.2 989.7L532.2 991.4L533.2 988.7L534.1 992.4L535.1 994.3L536.1 988.4L537 994.6L538 990.7L539 991.5L539.9 993.5L540.9 998.1L541.9 990.7L542.8 993.5L543.8 995.3L544.8 997L545.7 995.9L546.7 997.4L547.7 994.9L548.6 998.9L549.6 999.9L550.6 996L551.5 997.1L552.5 999.9L553.5 1000.2L554.4 1001L555.4 997.9L556.4 999.9L557.3 1000.1L558.3 1004.2L559.3 1001.7L560.2 1001.3L561.2 1000.9L562.2 1003.1L563.1 1005.9L564.1 1000.7L565.1 1004.5L566 1005.6L567 1009L568 1006.7L568.9 1008.4L569.9 1006.2L570.9 1003.6L571.8 1003.9L572.8 1005.7L573.8 1007.7L574.7 1007.2L575.7 1007.2L576.7 1012.1L577.6 1004L578.6 1007L579.6 1014.3L580.5 1010.4L581.5 1008.8L582.5 1008.2L583.4 1012.4L584.4 1012.4L585.4 1013L586.3 1009L587.3 1012.2L588.3 1011.8L589.2 1013.4L590.2 1009.5L591.1 1014.2L592.1 1016.4L593.1 1010.8L594 1015.6L595 1017.5L596 1016.1L596.9 1014.5L597.9 1015.1L598.9 1014L599.8 1015.8L600.8 1013.5L601.8 1015.9L602.7 1014.3L603.7 1013.3L604.7 1019.5L605.6 1012.9L606.6 1020.4L607.6 1012.6L608.5 1019.1L609.5 1017.8L610.5 1014.3L611.4 1016.7L612.4 1015.8L613.4 1016L614.3 1019.8L615.3 1015.7L616.3 1014.3L617.2 1020.5L618.2 1019.1L619.2 1018.3L620.1 1017.7L621.1 1019.6L622.1 1018.9L623 1017.8L624 1016.7L625 1019.9L625.9 1020.4L626.9 1018.2L627.9 1023.1L628.8 1017.2L629.8 1016.7L630.8 1019.1L631.7 1016.2L632.7 1015.6L633.7 1013.9L634.6 1015.1L635.6 1010.1L636.6 1011.5L637.5 1010.2L638.5 1007.3L639.5 1013.3L640.4 1009.8L641.4 1008L642.4 1009.8L643.3 1005.8L644.3 1009.4L645.3 1009.6L646.2 1003.1L647.2 1007.6L648.2 1004.8L649.1 1005.9L650.1 1003.2L651.1 1000.3L652 998L653 998.1L654 998.4L654.9 1000.6L655.9 998.9L656.9 997.3L657.8 998.6L658.8 991L659.8 991.3L660.7 990.2L661.7 991.4L662.7 986.7L663.6 987.5L664.6 989.9L665.6 987.7L666.5 987.2L667.5 981.5L668.5 978.9L669.4 979.5L670.4 975.3L671.4 974.8L672.3 972.6L673.3 971.6L674.3 970.9L675.2 968.3L676.2 964.8L677.2 959.9L678.1 958.8L679.1 954L680.1 950.1L681 946L682 944.8L683 943.8L683.9 941.1L684.9 936.9L685.9 934.9L686.8 929.8L687.8 930.9L688.8 925.2L689.7 921.4L690.7 920.4L691.7 916.1L692.6 914.3L693.6 913.8L694.6 907.1L695.5 905.7L696.5 903.6L697.5 901.9L698.4 903.3L699.4 899.6L700.4 898.5L701.3 889.9L702.3 893.9L703.3 892.1L704.2 891.3L705.2 889.1L706.1 886.8L707.1 888.3L708.1 885.8L709 885.3L710 883.5L711 883.6L711.9 884.4L712.9 884.4L713.9 882.5L714.8 882.5L715.8 881.7L716.8 883.5L717.7 881.1L718.7 881.4L719.7 882.1L720.6 881.3L721.6 882.7L722.6 885.3L723.5 882.7L724.5 885.5L725.5 885L726.4 884.1L727.4 885.5L728.4 887.2L729.3 883.8L730.3 887L731.3 888.5L732.2 885.8L733.2 889.9L734.2 889.4L735.1 887.7L736.1 890.5L737.1 888.1L738 889.2L739 889.5L740 893.3L740.9 893.1L741.9 893.3L742.9 894.6L743.8 896.3L744.8 896.9L745.8 897.6L746.7 899.7L747.7 899L748.7 900.8L749.6 904.7L750.6 904.5L751.6 902.3L752.5 908.9L753.5 906.3L754.5 911.7L755.4 910.5L756.4 913.3L757.4 910.3L758.3 913.3L759.3 915L760.3 916.7L761.2 917.9L762.2 919.7L763.2 922.1L764.1 923L765.1 925.5L766.1 928L767 926.5L768 930.7L769 931.4L769.9 934.6L770.9 937.7L771.9 936.6L772.8 940.1L773.8 944.2L774.8 946.5L775.7 946.2L776.7 950.5L777.7 951.9L778.6 953.8L779.6 955.2L780.6 958.7L781.5 961.7L782.5 962.2L783.5 966.3L784.4 966.6L785.4 969.1L786.4 974.1L787.3 975.7L788.3 977.6L789.3 981.9L790.2 985.2L791.2 987.2L792.2 991.8L793.1 992.1L794.1 995.1L795.1 1000L796 1000.8L797 1005.9L798 1006.3L798.9 1010.2L799.9 1014.3L800.9 1017.2L801.8 1022.5L802.8 1023.1L803.8 1027.4L804.7 1030.9L805.7 1033.9L806.7 1038.4L807.6 1040.2L808.6 1043.6L809.6 1046.5L810.5 1051.6L811.5 1054.4L812.5 1057.8L813.4 1061.1L814.4 1063.5L815.4 1068.1L816.3 1071.4L817.3 1075.6L818.3 1078.2L819.2 1080.7L820.2 1084.5L821.2 1089.3L822.1 1090.5L823.1 1093.7L824 1098.2L825 1102.3L826 1104.6L826.9 1107L827.9 1112.7L828.9 1113.7L829.8 1118.1L830.8 1121.7L831.8 1123.8L832.7 1127.3L833.7 1131L834.7 1131.9L835.6 1136.4L836.6 1139.7L837.6 1142.6L838.5 1144.2L839.5 1147.7L840.5 1149.7L841.4 1152.4L842.4 1154.8L843.4 1158.6L844.3 1160.9L845.3 1164.1L846.3 1163.9L847.2 1167.5L848.2 1170.9L849.2 1174.4L850.1 1174.8L851.1 1176.2L852.1 1179.4L853 1182L854 1184.9L855 1187.3L855.9 1189.1L856.9 1190.5L857.9 1194.3L858.8 1194L859.8 1196.5L860.8 1198.9L861.7 1199.9L862.7 1202L863.7 1204.5L864.6 1205L865.6 1207.4L866.6 1209.1L867.5 1212.8L868.5 1213.3L869.5 1213.6L870.4 1216.4L871.4 1216.4L872.4 1219.2L873.3 1218.9L874.3 1222.4L875.3 1223.1L876.2 1223.5L877.2 1226.4L878.2 1228.1L879.1 1229L880.1 1230.1L881.1 1230.1L882 1233.2L883 1231.7L884 1234.4L884.9 1238L885.9 1235.8L886.9 1236.5L887.8 1238.5L888.8 1240.9L889.8 1241.5L890.7 1243.7L891.7 1243.7L892.7 1243.4L893.6 1246.7L894.6 1245.8L895.6 1248.3L896.5 1250.1L897.5 1249.9L898.5 1251.8L899.4 1249.4L900.4 1251.3L901.4 1252.9L902.3 1251.9L903.3 1256.1L904.3 1256.8L905.2 1256.5L906.2 1257.4L907.2 1257.1L908.1 1256.4L909.1 1257.8L910.1 1259L911 1260.4L912 1260.5L913 1261.8L913.9 1259.8L914.9 1261.3L915.9 1263.5L916.8 1265.4L917.8 1261.5L918.8 1265.4L919.7 1266.7L920.7 1265.8L921.7 1266.6L922.6 1266.2L923.6 1267.3L924.6 1267.2L925.5 1265.7L926.5 1271.1L927.5 1269.7L928.4 1268.6L929.4 1272.2L930.4 1269.8L931.3 1271.8L932.3 1268.1L933.3 1270.3L934.2 1273.5L935.2 1274.5L936.2 1275.5L937.1 1275L938.1 1275.9L939 1271.9L940 1270.9L941 1269.4L941.9 1273.9L942.9 1273.6L943.9 1276.8L944.8 1273.9L945.8 1277.3L946.8 1271.9L947.7 1277.9L948.7 1274.8L949.7 1277.4L950.6 1276.9L951.6 1273.7L952.6 1276.9L953.5 1274.4L954.5 1277L955.5 1276.5L956.4 1276.3L957.4 1275.3L958.4 1275.1L959.3 1275.7L960.3 1271.4L961.3 1277.2L962.2 1275.3L963.2 1275.8L964.2 1273.8L965.1 1275.8L966.1 1274.4L967.1 1277.8L968 1272.6L969 1277L970 1273.4L970.9 1275.3L971.9 1274.1L972.9 1272.7L973.8 1270.6L974.8 1275.2L975.8 1270.9L976.7 1272.8L977.7 1275.6L978.7 1275.4L979.6 1273.4L980.6 1269.9L981.6 1272.2L982.5 1272.3L983.5 1270.5L984.5 1273.9L985.4 1271.7L986.4 1271.6L987.4 1270.6L988.3 1268.1L989.3 1268.5L990.3 1268.1L991.2 1271.4L992.2 1269.1L993.2 1269.4L994.1 1269L995.1 1268.6L996.1 1270.3L997 1268.5L998 1267.2L999 1266.5L999.9 1268.2L1000.9 1262.3L1001.9 1267.1L1002.8 1263.5L1003.8 1264.7L1004.8 1262.9L1005.7 1262.9L1006.7 1261.9L1007.7 1255.8L1008.6 1259.3L1009.6 1259.3L1010.6 1257.9L1011.5 1256.4L1012.5 1259.7L1013.5 1256.5L1014.4 1257.8L1015.4 1258.9L1016.4 1254.5L1017.3 1255.4L1018.3 1256.9L1019.3 1253.8L1020.2 1253L1021.2 1249.4L1022.2 1254.4L1023.1 1251L1024.1 1248.5L1025.1 1251.3L1026 1248.4L1027 1248.2L1028 1246.5L1028.9 1247.9L1029.9 1247L1030.9 1244.3L1031.8 1244.2L1032.8 1245.9L1033.8 1242.7L1034.7 1240.8L1035.7 1242.9L1036.7 1238.7L1037.6 1238.9L1038.6 1235.9L1039.6 1235.5L1040.5 1235L1041.5 1235.8L1042.5 1235.6L1043.4 1232.2L1044.4 1233.1L1045.4 1230.7L1046.3 1230.9L1047.3 1227.5L1048.3 1228.1L1049.2 1226.3L1050.2 1225.7L1051.2 1228.3L1052.1 1223.6L1053.1 1224.2L1054 1222.5L1055 1217.4L1056 1219.1L1056.9 1218.8L1057.9 1213.8L1058.9 1213.6L1059.8 1218.3L1060.8 1212.3L1061.8 1210.3L1062.7 1209.7L1063.7 1207.2L1064.7 1207.1L1065.6 1205.8L1066.6 1203.8L1067.6 1204.5L1068.5 1203.4L1069.5 1201.1L1070.5 1197.6L1071.4 1196.4L1072.4 1194L1073.4 1194.4L1074.3 1192L1075.3 1190.3L1076.3 1188.7L1077.2 1188L1078.2 1186.3L1079.2 1183.5L1080.1 1184.4L1081.1 1181.4L1082.1 1178.4L1083 1178.6L1084 1175.5L1085 1176L1085.9 1173.8L1086.9 1171.4L1087.9 1170.9L1088.8 1166.7L1089.8 1165.7L1090.8 1163.4L1091.7 1161.1L1092.7 1159L1093.7 1158.7L1094.6 1155.9L1095.6 1153.5L1096.6 1151.8L1097.5 1151.8L1098.5 1148L1099.5 1145.6L1100.4 1143.8L1101.4 1142.4L1102.4 1139.6L1103.3 1137.5L1104.3 1135.4L1105.3 1133L1106.2 1130.9L1107.2 1129.5L1108.2 1126.4L1109.1 1124.2L1110.1 1120.5L1111.1 1120L1112 1117.9L1113 1114.6L1114 1112.8L1114.9 1109.6L1115.9 1107.8L1116.9 1105.4L1117.8 1101.6L1118.8 1100.8L1119.8 1098.3L1120.7 1095L1121.7 1092L1122.7 1089.9L1123.6 1087.2L1124.6 1085.1L1125.6 1081.9L1126.5 1079.2L1127.5 1077L1128.5 1074.1L1129.4 1071L1130.4 1067.8L1131.4 1065L1132.3 1062.2L1133.3 1059.2L1134.3 1056.6L1135.2 1054.4L1136.2 1050.7L1137.2 1047.8L1138.1 1043.9L1139.1 1042.5L1140.1 1038.7L1141 1036.2L1142 1033L1143 1029.4L1143.9 1026.8L1144.9 1022.7L1145.9 1019.9L1146.8 1017.8L1147.8 1013.4L1148.8 1010.8L1149.7 1007.4L1150.7 1003.7L1151.7 1001.5L1152.6 997.4L1153.6 994.5L1154.6 991.8L1155.5 986.6L1156.5 983.9L1157.5 981L1158.4 977.1L1159.4 974.2L1160.4 970.5L1161.3 966.7L1162.3 963.3L1163.3 959.1L1164.2 955.2L1165.2 951.4L1166.2 948.9L1167.1 944.6L1168.1 942.1L1169 937.2L1170 933.2L1171 929.3L1171.9 927.3L1172.9 922.9L1173.9 919.4L1174.8 914.6L1175.8 912.2L1176.8 906.9L1177.7 903.8L1178.7 899.7L1179.7 896.5L1180.6 891.5L1181.6 888L1182.6 884.1L1183.5 880.3L1184.5 876.3L1185.5 872.7L1186.4 868.8L1187.4 864.2L1188.4 860.2L1189.3 856.4L1190.3 852.4L1191.3 848.1L1192.2 844.3L1193.2 840.1L1194.2 836.3L1195.1 831.4L1196.1 827.7L1197.1 823.2L1198 818.4L1199 814.8L1200 811L1200.9 806.5L1201.9 802.1L1202.9 798.7L1203.8 794.7L1204.8 790.2L1205.8 786L1206.7 780.7L1207.7 777.4L1208.7 773.7L1209.6 769.3L1210.6 764.4L1211.6 760.6L1212.5 755.6L1213.5 751.2L1214.5 747.3L1215.4 743L1216.4 738.1L1217.4 734L1218.3 730.3L1219.3 725.2L1220.3 721.2L1221.2 716.9L1222.2 712.9L1223.2 708L1224.1 703.8L1225.1 699.9L1226.1 694.7L1227 690.2L1228 685.4L1229 682.1L1229.9 677.1L1230.9 672.7L1231.9 667.7L1232.8 664L1233.8 659.3L1234.8 655.3L1235.7 650.9L1236.7 646.7L1237.7 643.1L1238.6 637.3L1239.6 633.4L1240.6 628.8L1241.5 624.6L1242.5 620.4L1243.5 616.4L1244.4 611.6L1245.4 607.3L1246.4 603.1L1247.3 598.5L1248.3 593.8L1249.3 589.7L1250.2 585.4L1251.2 580.2L1252.2 577L1253.1 572.4L1254.1 568.3L1255.1 563.7L1256 558.6L1257 554.6L1258 550.6L1258.9 545.6L1259.9 542.5L1260.9 537L1261.8 534.1L1262.8 529.1L1263.8 525L1264.7 519.8L1265.7 515.9L1266.7 511.6L1267.6 508.2L1268.6 504.2L1269.6 499.8L1270.5 493.5L1271.5 490.5L1272.5 485.6L1273.4 481.9L1274.4 477.5L1275.4 472.6L1276.3 468.6L1277.3 465.3L1278.3 460.7L1279.2 456.2L1280.2 452.3L1281.2 447.6L1282.1 444.2L1283.1 439.5L1284.1 436L1285 430.3L1286 427.3L1286.9 422.7L1287.9 418.1L1288.9 414.1L1289.8 410.5L1290.8 406.6L1291.8 401.9L1292.7 397.9L1293.7 393.7L1294.7 389.5L1295.6 386.6L1296.6 382L1297.6 378.3L1298.5 373.3L1299.5 369.7L1300.5 365.4L1301.4 362L1302.4 357.7L1303.4 354.4L1304.3 349.8L1305.3 345.6L1306.3 341.4L1307.2 337.8L1308.2 334.6L1309.2 330.2L1310.1 326.7L1311.1 323.3L1312.1 319.8L1313 315L1314 311.8L1315 307.7L1315.9 304.8L1316.9 301.2L1317.9 297.8L1318.8 293.7L1319.8 290.6L1320.8 286.7L1321.7 284.4L1322.7 280.6L1323.7 277.3L1324.6 274.6L1325.6 271.6L1326.6 267.9L1327.5 265.1L1328.5 262.2L1329.5 259L1330.4 255.8L1331.4 253L1332.4 250.9L1333.3 247.9L1334.3 244.6L1335.3 242.2L1336.2 240.2L1337.2 237.3L1338.2 234.4L1339.1 231.8L1340.1 230L1341.1 228.4L1342 225.2L1343 222.6L1344 220.4L1344.9 219.1L1345.9 215.6L1346.9 214.2L1347.8 212.4L1348.8 210.1L1349.8 209.5L1350.7 206.7L1351.7 204.9L1352.7 203.5L1353.6 201.3L1354.6 198.8L1355.6 198.1L1356.5 196.1L1357.5 194.5L1358.5 193.9L1359.4 191.4L1360.4 190.4L1361.4 189L1362.3 187.9L1363.3 187.4L1364.3 184.8L1365.2 184L1366.2 183.4L1367.2 181.8L1368.1 180.4L1369.1 179.5L1370.1 179.3L1371 177.2L1372 177.7L1373 176.9L1373.9 175.3L1374.9 174.7L1375.9 174L1376.8 172.9L1377.8 172.6L1378.8 170.9L1379.7 170.5L1380.7 170.3L1381.7 169.9L1382.6 170L1383.6 169.4L1384.6 169.4L1385.5 168.5L1386.5 168.1L1387.5 168.1L1388.4 166.9L1389.4 166.5L1390.4 166.4L1391.3 165.5L1392.3 165.8L1393.3 165.7L1394.2 164.8L1395.2 164.6L1396.2 164.5L1397.1 165.7L1398.1 165.6L1399.1 163.5L1400 164.9L1401 163.5L1401.9 162.3L1402.9 162.8L1403.9 162.1L1404.8 161.8L1405.8 160.9L1406.8 162.3L1407.7 160.4L1408.7 161.2L1409.7 162.5L1410.6 163.9L1411.6 161.9L1412.6 162.3L1413.5 163.3L1414.5 162.6L1415.5 164.9L1416.4 161L1417.4 164.9L1418.4 164.3L1419.3 166.6L1420.3 169.2L1421.3 168.6L1422.2 169L1423.2 170.8L1424.2 171.1L1425.1 173.1L1426.1 173.7L1427.1 174.8L1428 175.3L1429 180.9L1430 181L1430.9 180.5L1431.9 182.1L1432.9 186.6L1433.8 185.4L1434.8 189.7L1435.8 193.9L1436.7 201.7L1437.7 196.6L1438.7 204.4L1439.6 200L1440.6 205.3L1441.6 207.9L1442.5 208.1L1443.5 201.9L1444.5 208.2L1445.4 206L1446.4 204.8L1447.4 204.6L1448.3 201.4L1449.3 205.1L1450.3 202.6L1451.2 200.8L1452.2 203L1453.2 198.6L1454.1 201L1455.1 202.4L1456.1 206.1L1457 206.7L1458 210.3L1459 207.8L1459.9 209.5L1460.9 215.3L1461.9 215.2L1462.8 214.5L1463.8 218.5L1464.8 220.1L1465.7 223.3L1466.7 223.3L1467.7 221.8L1468.6 225.6L1469.6 229.9L1470.6 230.4L1471.5 228.9L1472.5 235.4L1473.5 232.1L1474.4 235.3L1475.4 233L1476.4 240.2L1477.3 243.5L1478.3 245.9L1479.3 250.8L1480.2 253.2L1481.2 259.5L1482.2 259.2L1483.1 264.2L1484.1 265.8L1485.1 266.7L1486 269L1487 270.5L1488 270.8L1488.9 268.7L1489.9 277.9L1490.9 280.7L1491.8 276.9L1492.8 275.7L1493.8 279.7L1494.7 277.2L1495.7 283.6L1496.7 287.9L1497.6 286.8L1498.6 288.6L1499.6 284.1L1500.5 289.8L1501.5 289.1L1502.5 298.2L1503.4 295.8L1504.4 297.6L1505.4 302.6L1506.3 308.1L1507.3 312.2L1508.3 314.3L1509.2 322.1L1510.2 327.6L1511.2 330.5L1512.1 337.8L1513.1 338.8L1514.1 346.4L1515 352.3L1516 354.4L1516.9 354L1517.9 359L1518.9 361.2L1519.8 361.8L1520.8 358.8L1521.8 362.1L1522.7 364L1523.7 374L1524.7 372.8L1525.6 375.8L1526.6 383.8L1527.6 383.7L1528.5 387L1529.5 393.4L1530.5 394.7L1531.4 393.8L1532.4 392.3L1533.4 387.7L1534.3 395.8L1535.3 394L1536.3 399.9L1537.2 401.6L1538.2 398.8L1539.2 402.9L1540.1 409.6L1541.1 415L1542.1 421.3L1543 420.5L1544 422.5L1545 429.4L1545.9 430.4L1546.9 432.4L1547.9 436.9L1548.8 433.3L1549.8 438.2L1550.8 437L1551.7 440.7L1552.7 444.1L1553.7 444.6L1554.6 444L1555.6 448.4L1556.6 453.5L1557.5 453.7L1558.5 457.7L1559.5 463.5L1560.4 466.8L1561.4 475.9L1562.4 482.7L1563.3 482.2L1564.3 494.7L1565.3 495.7L1566.2 500.6L1567.2 507.5L1568.2 507.7L1569.1 509.8L1570.1 511.2L1571.1 515.9L1572 519.3L1573 522.5L1574 522.8L1574.9 533.2L1575.9 534.4L1576.9 543.7L1577.8 543L1578.8 549.3L1579.8 551.5L1580.7 548L1581.7 551.3L1582.7 552.8L1583.6 556L1584.6 553.4L1585.6 553.8L1586.5 564.3L1587.5 560.8L1588.5 564.3L1589.4 567.4L1590.4 573.8L1591.4 579.6L1592.3 582.9L1593.3 585.8L1594.3 589.2L1595.2 596.1L1596.2 594.1L1597.2 599.4L1598.1 600.3L1599.1 601.7L1600.1 606.3L1601 605.7L1602 604.2L1603 612.9L1603.9 613.7L1604.9 616.7L1605.9 621.4L1606.8 622.3L1607.8 628.9L1608.8 628.9L1609.7 636.9L1610.7 632.1L1611.7 636.9L1612.6 638.6L1613.6 638.6L1614.6 641.1L1615.5 645L1616.5 643L1617.5 648.3L1618.4 651.7L1619.4 649.7L1620.4 652.6L1621.3 653.7L1622.3 658.8L1623.3 664.5L1624.2 669.3L1625.2 674.7L1626.2 679.3L1627.1 680.8L1628.1 678.4L1629.1 680.4L1630 680.5L1631 679.1L1632 682.8L1632.9 684.5L1633.9 685.1L1634.8 684.2L1635.8 690.2L1636.8 692.1L1637.7 691.8L1638.7 695.7L1639.7 701.4L1640.6 702.7L1641.6 711.7L1642.6 718.4L1643.5 719.6L1644.5 721.6L1645.5 722.5L1646.4 725.8L1647.4 725.4L1648.4 722L1649.3 721.8L1650.3 723.9L1651.3 725.3L1652.2 725.3L1653.2 732.1L1654.2 734.9L1655.1 741.2L1656.1 745.2L1657.1 744.5L1658 753.1L1659 754.9L1660 753.9L1660.9 754.9L1661.9 757.1L1662.9 761.5L1663.8 760.9L1664.8 763.9L1665.8 768.1L1666.7 766.1L1667.7 767.5L1668.7 771.8L1669.6 776L1670.6 778.2L1671.6 780.5L1672.5 785.3L1673.5 786.1L1674.5 786.8L1675.4 788.5L1676.4 790L1677.4 788.2L1678.3 792L1679.3 790.2L1680.3 793.1L1681.2 797.2L1682.2 802.9L1683.2 808.3L1684.1 810L1685.1 811.1L1686.1 813.7L1687 815.1L1688 814.6L1689 817.2L1689.9 818.2L1690.9 821.1L1691.9 819.4L1692.8 821.7L1693.8 822.3L1694.8 829.7L1695.7 829.6L1696.7 832.4L1697.7 831.3L1698.6 838.3L1699.6 840.1L1700.6 844.4L1701.5 846.7L1702.5 846.4L1703.5 847.2L1704.4 848.7L1705.4 849L1706.4 849.8L1707.3 851.7L1708.3 853.9L1709.3 855L1710.2 859.3L1711.2 866.4L1712.2 864.2L1713.1 865.7L1714.1 868.2L1715.1 866.5L1716 868.1L1717 866.9L1718 870.2L1718.9 869.7L1719.9 869L1720.9 875.7L1721.8 880L1722.8 882.3L1723.8 889.5L1724.7 885.6L1725.7 888.2L1726.7 893.3L1727.6 896.7L1728.6 896.5L1729.6 897.5L1730.5 897.6L1731.5 903.8L1732.5 900.2L1733.4 903.1L1734.4 903.3L1735.4 901.4L1736.3 907L1737.3 907.6L1738.3 913.7L1739.2 917.8L1740.2 918.8L1741.2 923.6L1742.1 924.1L1743.1 922.4L1744.1 924.8L1745 926.3L1746 928L1747 925.1L1747.9 930.5L1748.9 926.7L1749.8 927.9L1750.8 933.3L1751.8 932.4L1752.7 939.4L1753.7 934.9L1754.7 940.3L1755.6 943.4L1756.6 941.1L1757.6 948L1758.5 945.4L1759.5 950.5L1760.5 952.3L1761.4 954.3L1762.4 957.4L1763.4 959.3L1764.3 958.3L1765.3 959.9L1766.3 963.6L1767.2 962L1768.2 968.9L1769.2 967.6L1770.1 973.6L1771.1 971.9L1772.1 971.3L1773 972.2L1774 978.3L1775 972.3L1775.9 980.1L1776.9 987.7L1777.9 986.6L1778.8 990.6L1779.8 991.5L1780.8 994.2L1781.7 993L1782.7 995.9L1783.7 999.1L1784.6 997.9L1785.6 999.2L1786.6 1002.2L1787.5 1003.2L1788.5 1003.1L1789.5 1002.8L1790.4 1004L1791.4 1008.2L1792.4 1009.7L1793.3 1014.6L1794.3 1018.9L1795.3 1017.8L1796.2 1015.4L1797.2 1017.1L1798.2 1016L1799.1 1020.7L1800.1 1021.9L1801.1 1024.3L1802 1022L1803 1025.4L1804 1025.9L1804.9 1028.7L1805.9 1025.3L1806.9 1031.1L1807.8 1029.6L1808.8 1030.3L1809.8 1029L1810.7 1031.7L1811.7 1033.6L1812.7 1033.7L1813.6 1035.7L1814.6 1034.7L1815.6 1038.6L1816.5 1039.1L1817.5 1039.8L1818.5 1043.1L1819.4 1047.6L1820.4 1051.2L1821.4 1052.8L1822.3 1056.9L1823.3 1056.8L1824.3 1058L1825.2 1058.5L1826.2 1062L1827.2 1062.3L1828.1 1060.3L1829.1 1064.8L1830.1 1065.9L1831 1066.6L1832 1072.5L1833 1069.3L1833.9 1070.3L1834.9 1070.5L1835.9 1069.2L1836.8 1071.2L1837.8 1072.2L1838.8 1073.5L1839.7 1073.5L1840.7 1077.6L1841.7 1078.7L1842.6 1079.3L1843.6 1081.4L1844.6 1083.9L1845.5 1085.6L1846.5 1084.3L1847.5 1084.7L1848.4 1086.6L1849.4 1088.3L1850.4 1092.9L1851.3 1092L1852.3 1088.1L1853.3 1092.5L1854.2 1095.2L1855.2 1098.3L1856.2 1097.8L1857.1 1102.8L1858.1 1099.8L1859.1 1106.3L1860 1103.3L1861 1105.1L1862 1107.2L1862.9 1106.8L1863.9 1107.1L1864.8 1111L1865.8 1111.8L1866.8 1115.4L1867.7 1115.3L1868.7 1113.6L1869.7 1116.8L1870.6 1115.3L1871.6 1114.7L1872.6 1118.1L1873.5 1118.4L1874.5 1119.1L1875.5 1123.1L1876.4 1122.2L1877.4 1121.5L1878.4 1123.3L1879.3 1125.6L1880.3 1122.3L1881.3 1127.9L1882.2 1128.4L1883.2 1129.8L1884.2 1132.3L1885.1 1133.3L1886.1 1131.2L1887.1 1135.1L1888 1134.5L1889 1133.1L1890 1136.1L1890.9 1136.7L1891.9 1138.6L1892.9 1136.9L1893.8 1137.4L1894.8 1139.9L1895.8 1138.5L1896.7 1139.4L1897.7 1139.4L1898.7 1141.8L1899.6 1142L1900.6 1141.4L1901.6 1137.5L1902.5 1144.5L1903.5 1142.1L1904.5 1144.7L1905.4 1144.1L1906.4 1142.4L1907.4 1147.3L1908.3 1146.1L1909.3 1147.7L1910.3 1148.9L1911.2 1153.7L1912.2 1149.6L1913.2 1150.9L1914.1 1151.3L1915.1 1153L1916.1 1155.2L1917 1155.5L1918 1157.5L1919 1158.5L1919.9 1159.9L1920.9 1161.5L1921.9 1168.1L1922.8 1164.1L1923.8 1167.5L1924.8 1167.6L1925.7 1172.4L1926.7 1174.4L1927.7 1174.9L1928.6 1175.4L1929.6 1180.5L1930.6 1183.3L1931.5 1179.9L1932.5 1183L1933.5 1185.7L1934.4 1187.4L1935.4 1189.1L1936.4 1191.9L1937.3 1191.9L1938.3 1194.3L1939.3 1197.5L1940.2 1197.8L1941.2 1203L1942.2 1202.7L1943.1 1206.1L1944.1 1206.5L1945.1 1209.1L1946 1209.4L1947 1211.1L1948 1213.3L1948.9 1213.3L1949.9 1218.7L1950.9 1216.5L1951.8 1221.7L1952.8 1220.7L1953.8 1224.6L1954.7 1225.4L1955.7 1228.2L1956.7 1232.7L1957.6 1233.4L1958.6 1229.5L1959.6 1231.4L1960.5 1230.8L1961.5 1233L1962.5 1230.9L1963.4 1234.2L1964.4 1231.3L1965.4 1236.9L1966.3 1233.7L1967.3 1232.4L1968.3 1233.9L1969.2 1235.3L1970.2 1233.2L1971.2 1238.4L1972.1 1236.4L1973.1 1234.9L1974.1 1233.8L1975 1236.6L1976 1237.1L1977 1237.8L1977.9 1236.5L1978.9 1235.3L1979.9 1238.6L1980.8 1237.1L1981.8 1235.8L1982.7 1237.8L1983.7 1237.7L1984.7 1237.5L1985.6 1240L1986.6 1234.3L1987.6 1240.6L1988.5 1238.8L1989.5 1238.9L1990.5 1239.4L1991.4 1241L1992.4 1238.5L1993.4 1240.8L1994.3 1243.1L1995.3 1243L1996.3 1239.9L1997.2 1240.7L1998.2 1239.8L1999.2 1240.2L2000.1 1244.5L2001.1 1245L2002.1 1241.4L2003 1247.3L2004 1246.7L2005 1245.6L2005.9 1244.1L2006.9 1244.2L2007.9 1246.9L2008.8 1246.7L2009.8 1243.3L2010.8 1246.6L2011.7 1246.8L2012.7 1249.2L2013.7 1245.4L2014.6 1246.6L2015.6 1247.1L2016.6 1247.3L2017.5 1246.7L2018.5 1250.4L2019.5 1246.4L2020.4 1247.1L2021.4 1246.2L2022.4 1247.5L2023.3 1249.9L2024.3 1248.3L2025.3 1249.3L2026.2 1249.1L2027.2 1247.7L2028.2 1244.7L2029.1 1248.4L2030.1 1247.9L2031.1 1247.5L2032 1247.2L2033 1247.6L2034 1246.7L2034.9 1246.6L2035.9 1246.8L2036.9 1248.4L2037.8 1251.1L2038.8 1249.1L2044.8 1249.1" stroke="#c00a20" stroke-width="9.3"/>
<path d="M293.3 841.1L299.3 841.1L300.3 838.3L301.2 843.8L302.2 848L303.2 846.5L304.1 850L305.1 853.6L306.1 851.8L307 856L308 858.8L309 858.3L309.9 861.1L310.9 860.1L311.9 861L312.8 863.4L313.8 862.2L314.8 866.8L315.7 866.9L316.7 866.7L317.7 871.7L318.6 873L319.6 873.6L320.6 875.2L321.5 878.4L322.5 877.8L323.5 880.2L324.4 885.3L325.4 886L326.4 889.1L327.3 889.7L328.3 893.6L329.3 891.9L330.2 896.9L331.2 898.5L332.2 900.8L333.1 903.3L334.1 902.7L335.1 905.2L336 909.8L337 910.8L338 912.3L338.9 911L339.9 917.5L340.9 917.5L341.8 919.9L342.8 918.3L343.8 922.9L344.7 921.2L345.7 927.3L346.7 928.1L347.6 930.2L348.6 930.3L349.6 933.9L350.5 935L351.5 934.6L352.5 939.1L353.4 940.1L354.4 940L355.4 945L356.3 943.4L357.3 945.8L358.2 945.8L359.2 947.5L360.2 952L361.1 956.2L362.1 953.4L363.1 955.3L364 956.6L365 959.8L366 962.9L366.9 961.3L367.9 961.8L368.9 964.5L369.8 965.2L370.8 964.9L371.8 966.4L372.7 966L373.7 968.3L374.7 967.1L375.6 972L376.6 972.9L377.6 968.6L378.5 969.4L379.5 971.8L380.5 973.6L381.4 976.1L382.4 974.6L383.4 977.3L384.3 974.2L385.3 976.6L386.3 977.4L387.2 976.7L388.2 977.4L389.2 980.3L390.1 980.3L391.1 981.8L392.1 977.9L393 983.6L394 984.5L395 985.5L395.9 982.7L396.9 982.3L397.9 984.5L398.8 984.3L399.8 985.9L400.8 981.5L401.7 984.8L402.7 986.1L403.7 984.6L404.6 985L405.6 989.6L406.6 988.1L407.5 986.3L408.5 990.6L409.5 987.9L410.4 987.6L411.4 988.1L412.4 988.8L413.3 990.9L414.3 990.5L415.3 991.3L416.2 990.7L417.2 992.7L418.2 991.2L419.1 993.3L420.1 991.6L421.1 995.3L422 995.2L423 994.3L424 995.5L424.9 994.8L425.9 995.6L426.9 997L427.8 998.7L428.8 995.3L429.8 997.8L430.7 999.9L431.7 997.6L432.7 998L433.6 1001.9L434.6 1000.3L435.6 1004.3L436.5 1003.3L437.5 1002.8L438.5 1003.1L439.4 1003.7L440.4 1004.1L441.4 1004.4L442.3 1003.6L443.3 1005.4L444.3 1007.2L445.2 1005.8L446.2 1006.3L447.2 1007.4L448.1 1011.5L449.1 1011.7L450.1 1011.2L451 1010.2L452 1013L453 1009.6L453.9 1013.8L454.9 1013.6L455.9 1017.3L456.8 1015.5L457.8 1014.6L458.8 1016.2L459.7 1015.4L460.7 1017.7L461.7 1017.1L462.6 1019.4L463.6 1020.4L464.6 1018L465.5 1022.3L466.5 1016.9L467.5 1019.6L468.4 1023.2L469.4 1023.8L470.4 1026.1L471.3 1023.6L472.3 1024.4L473.2 1026.4L474.2 1024.9L475.2 1027.2L476.1 1026.2L477.1 1027L478.1 1029.5L479 1029.6L480 1028.2L481 1032L481.9 1028.6L482.9 1031.8L483.9 1032.9L484.8 1031.8L485.8 1031.3L486.8 1032.2L487.7 1034.5L488.7 1037.3L489.7 1035L490.6 1033.3L491.6 1035.8L492.6 1034.7L493.5 1039.5L494.5 1039L495.5 1039.5L496.4 1036.4L497.4 1037.7L498.4 1038.8L499.3 1040.7L500.3 1041.3L501.3 1041.4L502.2 1044.2L503.2 1041.8L504.2 1045.5L505.1 1045.3L506.1 1043.7L507.1 1045L508 1048.9L509 1047.3L510 1045.5L510.9 1047.7L511.9 1047.9L512.9 1049.9L513.8 1048.5L514.8 1051.2L515.8 1050.1L516.7 1050.3L517.7 1053.2L518.7 1052.7L519.6 1050.3L520.6 1053.5L521.6 1053.8L522.5 1054.9L523.5 1056.6L524.5 1053.4L525.4 1056.9L526.4 1056L527.4 1058.2L528.3 1056.4L529.3 1058.4L530.3 1060.8L531.2 1059.2L532.2 1060.9L533.2 1056.7L534.1 1059.2L535.1 1059.9L536.1 1061.5L537 1062L538 1063.9L539 1061.9L539.9 1066.7L540.9 1067.3L541.9 1064.1L542.8 1066.6L543.8 1068.7L544.8 1066.2L545.7 1067.5L546.7 1069.2L547.7 1069.9L548.6 1069.1L549.6 1069.1L550.6 1070.5L551.5 1070.2L552.5 1072.4L553.5 1071.1L554.4 1071.3L555.4 1071.2L556.4 1075.3L557.3 1072.8L558.3 1072.1L559.3 1075.2L560.2 1074.1L561.2 1076.3L562.2 1075.7L563.1 1076.5L564.1 1076.9L565.1 1077.8L566 1077.7L567 1077.2L568 1079.2L568.9 1080L569.9 1077.6L570.9 1079.7L571.8 1081.2L572.8 1082.3L573.8 1084L574.7 1083.4L575.7 1083.6L576.7 1083.2L577.6 1084L578.6 1083.8L579.6 1085.2L580.5 1082L581.5 1085L582.5 1087.9L583.4 1085.2L584.4 1084.5L585.4 1085.9L586.3 1086.9L587.3 1088.8L588.3 1085.2L589.2 1087.8L590.2 1090.2L591.1 1089.4L592.1 1088L593.1 1091.2L594 1089.9L595 1089.9L596 1090.4L596.9 1089.9L597.9 1092.1L598.9 1092.6L599.8 1091.6L600.8 1092.5L601.8 1091.8L602.7 1091.4L603.7 1092.2L604.7 1091.7L605.6 1092.3L606.6 1092.3L607.6 1094.6L608.5 1090.5L609.5 1092.2L610.5 1093.8L611.4 1092L612.4 1092.7L613.4 1093L614.3 1092.8L615.3 1093.2L616.3 1091.9L617.2 1092.3L618.2 1091.4L619.2 1092.2L620.1 1091.6L621.1 1090.4L622.1 1092.2L623 1092.3L624 1092.4L625 1092L625.9 1092.7L626.9 1091.9L627.9 1091.4L628.8 1092.4L629.8 1090.9L630.8 1089.3L631.7 1091.1L632.7 1089.9L633.7 1087.2L634.6 1088.4L635.6 1087.1L636.6 1088.5L637.5 1087.1L638.5 1084.4L639.5 1084.9L640.4 1087.4L641.4 1085.1L642.4 1084.6L643.3 1083.3L644.3 1083.1L645.3 1083.7L646.2 1081.9L647.2 1080.1L648.2 1079.7L649.1 1080.7L650.1 1078.4L651.1 1076.5L652 1077.5L653 1072.9L654 1070.2L654.9 1071.4L655.9 1070.7L656.9 1069.3L657.8 1065.5L658.8 1065.7L659.8 1063.4L660.7 1063.5L661.7 1061.4L662.7 1058.3L663.6 1054.8L664.6 1054.3L665.6 1051.5L666.5 1048.9L667.5 1046.7L668.5 1045.1L669.4 1040L670.4 1036.6L671.4 1035.7L672.3 1033L673.3 1029.4L674.3 1023.9L675.2 1022.5L676.2 1018.8L677.2 1016.2L678.1 1013.1L679.1 1008.3L680.1 1005.8L681 1002.2L682 999.9L683 998.4L683.9 992.9L684.9 991.8L685.9 988.8L686.8 984.6L687.8 984L688.8 977.4L689.7 979.9L690.7 976.7L691.7 972.5L692.6 969.2L693.6 967.1L694.6 964.5L695.5 965.8L696.5 960.2L697.5 960L698.4 955.9L699.4 955.8L700.4 954.6L701.3 951.8L702.3 952L703.3 949.1L704.2 948.4L705.2 946.1L706.1 943.7L707.1 943.4L708.1 943L709 942.4L710 939.7L711 938.3L711.9 938.1L712.9 936.8L713.9 936.6L714.8 935.5L715.8 935.7L716.8 935.4L717.7 933L718.7 933.9L719.7 932.5L720.6 933.7L721.6 931.4L722.6 930.9L723.5 930.1L724.5 930.9L725.5 931L726.4 929.8L727.4 930.6L728.4 927.6L729.3 930.4L730.3 930.1L731.3 927.7L732.2 931.5L733.2 930.4L734.2 930.5L735.1 931L736.1 929.2L737.1 928.5L738 931.9L739 929.2L740 928L740.9 928L741.9 932.7L742.9 930.7L743.8 931.2L744.8 931.4L745.8 932L746.7 934L747.7 931.9L748.7 934L749.6 933.6L750.6 933.6L751.6 933.9L752.5 935.5L753.5 935.8L754.5 938.4L755.4 940.3L756.4 940L757.4 940.1L758.3 940.5L759.3 942.2L760.3 945.7L761.2 947L762.2 949.2L763.2 948.5L764.1 951.3L765.1 954.5L766.1 955.4L767 955.9L768 958.2L769 959.5L769.9 961.9L770.9 966.9L771.9 966.5L772.8 971.4L773.8 973.4L774.8 975.1L775.7 976.2L776.7 981.6L777.7 982.8L778.6 985.4L779.6 986.8L780.6 987.8L781.5 992.4L782.5 995.1L783.5 995.6L784.4 999.5L785.4 1002.4L786.4 1003.6L787.3 1007.6L788.3 1010.2L789.3 1013.3L790.2 1015.6L791.2 1018.1L792.2 1021.1L793.1 1023.6L794.1 1028.1L795.1 1030.1L796 1032.1L797 1035.5L798 1039.4L798.9 1042.5L799.9 1044L800.9 1048.2L801.8 1051.1L802.8 1054.1L803.8 1056.2L804.7 1060.8L805.7 1062.8L806.7 1065.5L807.6 1070.9L808.6 1072.9L809.6 1076.2L810.5 1080.6L811.5 1081.4L812.5 1085.3L813.4 1087.9L814.4 1092.2L815.4 1096.8L816.3 1099.5L817.3 1103.1L818.3 1105.8L819.2 1109.2L820.2 1112.7L821.2 1117.7L822.1 1120.3L823.1 1124.2L824 1126.5L825 1131.3L826 1133.9L826.9 1138.2L827.9 1142.3L828.9 1145.8L829.8 1149.6L830.8 1152.6L831.8 1156.2L832.7 1160.6L833.7 1164.7L834.7 1167.7L835.6 1171.4L836.6 1175.1L837.6 1178.6L838.5 1182.5L839.5 1185.7L840.5 1189.6L841.4 1193.6L842.4 1196.3L843.4 1200.4L844.3 1204L845.3 1207.6L846.3 1210.8L847.2 1214.7L848.2 1218.5L849.2 1222.1L850.1 1224.1L851.1 1228.6L852.1 1231.6L853 1235.8L854 1237.9L855 1241.4L855.9 1245L856.9 1247L857.9 1252.1L858.8 1254.7L859.8 1257.1L860.8 1259.6L861.7 1263.3L862.7 1266.4L863.7 1269.3L864.6 1272.1L865.6 1275.2L866.6 1277.8L867.5 1278.5L868.5 1283.5L869.5 1285.8L870.4 1287.5L871.4 1290.4L872.4 1293.3L873.3 1294.7L874.3 1298.7L875.3 1299.9L876.2 1302.5L877.2 1304.3L878.2 1307.1L879.1 1310.1L880.1 1312.1L881.1 1313.5L882 1314.7L883 1317.7L884 1319.5L884.9 1321.9L885.9 1323.3L886.9 1326.7L887.8 1328.1L888.8 1329.6L889.8 1331.5L890.7 1333.6L891.7 1335.7L892.7 1336.5L893.6 1338.6L894.6 1340.6L895.6 1342.2L896.5 1344.4L897.5 1345.6L898.5 1347.8L899.4 1348.6L900.4 1349.9L901.4 1351.9L902.3 1352.4L903.3 1354.8L904.3 1357L905.2 1358.8L906.2 1358.8L907.2 1360.8L908.1 1362.5L909.1 1362.8L910.1 1365.5L911 1366.7L912 1368.3L913 1369.5L913.9 1370L914.9 1371L915.9 1373L916.8 1374.3L917.8 1377L918.8 1375.8L919.7 1377.1L920.7 1378.9L921.7 1379.7L922.6 1380.4L923.6 1381.8L924.6 1383.8L925.5 1384.3L926.5 1385.8L927.5 1386.5L928.4 1388.7L929.4 1388.3L930.4 1389.8L931.3 1390.2L932.3 1391L933.3 1391.8L934.2 1392.7L935.2 1393.9L936.2 1394.8L937.1 1395.4L938.1 1396.4L939 1397.9L940 1397.9L941 1399.9L941.9 1400.5L942.9 1400.9L943.9 1401.5L944.8 1403.1L945.8 1403.8L946.8 1404.9L947.7 1405.4L948.7 1405.4L949.7 1405.4L950.6 1406.4L951.6 1406.3L952.6 1407.7L953.5 1408.4L954.5 1409.4L955.5 1409.4L956.4 1410.8L957.4 1411.2L958.4 1411.3L959.3 1412L960.3 1412.4L961.3 1413L962.2 1413.3L963.2 1413.6L964.2 1414.3L965.1 1415.3L966.1 1415L967.1 1415.5L968 1416.3L969 1417.9L970 1417.6L970.9 1417.7L971.9 1418.6L972.9 1418.8L973.8 1417.6L974.8 1419.4L975.8 1420.1L976.7 1420.6L977.7 1420.9L978.7 1421.3L979.6 1420.4L980.6 1421.3L981.6 1421.9L982.5 1423.1L983.5 1422.2L984.5 1423.3L985.4 1423.8L986.4 1424.4L987.4 1424.2L988.3 1424.9L989.3 1424.6L990.3 1424.2L991.2 1424.3L992.2 1425.6L993.2 1424.9L994.1 1426.7L995.1 1426.6L996.1 1426.5L997 1426.4L998 1426.8L999 1427.5L999.9 1427.4L1000.9 1426.9L1001.9 1428.5L1002.8 1427.8L1003.8 1427.8L1004.8 1428.3L1005.7 1428.4L1006.7 1429.4L1007.7 1428.9L1008.6 1428.8L1009.6 1429.1L1010.6 1429.4L1011.5 1428.9L1012.5 1428.7L1013.5 1429.3L1014.4 1429.8L1015.4 1429L1016.4 1429.2L1017.3 1429.8L1018.3 1430.2L1019.3 1430.5L1020.2 1429.8L1021.2 1430.8L1022.2 1429.6L1023.1 1430.3L1024.1 1430.4L1025.1 1431.6L1026 1431L1027 1430L1028 1431L1028.9 1430.5L1029.9 1430.7L1030.9 1431.2L1031.8 1430.5L1032.8 1430.1L1033.8 1430.5L1034.7 1430.7L1035.7 1430.5L1036.7 1430L1037.6 1430.2L1038.6 1430.2L1039.6 1430.2L1040.5 1430.5L1041.5 1430.7L1042.5 1429.8L1043.4 1429.3L1044.4 1430L1045.4 1429.3L1046.3 1430.2L1047.3 1429.6L1048.3 1429.6L1049.2 1427.9L1050.2 1428.8L1051.2 1429.1L1052.1 1427.8L1053.1 1428.3L1054 1428.8L1055 1428.3L1056 1427.2L1056.9 1428L1057.9 1427.7L1058.9 1427.4L1059.8 1427L1060.8 1426.7L1061.8 1426.2L1062.7 1425.7L1063.7 1424.9L1064.7 1425.7L1065.6 1425.4L1066.6 1424.9L1067.6 1424.8L1068.5 1424.6L1069.5 1423.6L1070.5 1423.6L1071.4 1423.6L1072.4 1423.7L1073.4 1422.4L1074.3 1422.3L1075.3 1421.6L1076.3 1421.2L1077.2 1421.7L1078.2 1419.5L1079.2 1420.8L1080.1 1419.5L1081.1 1419.2L1082.1 1419L1083 1418.6L1084 1418.4L1085 1418.1L1085.9 1417.7L1086.9 1415.9L1087.9 1416.2L1088.8 1415.8L1089.8 1415.4L1090.8 1413.9L1091.7 1414.8L1092.7 1414L1093.7 1413L1094.6 1413.9L1095.6 1411.4L1096.6 1411.2L1097.5 1410.6L1098.5 1410.4L1099.5 1409.2L1100.4 1408.6L1101.4 1408.9L1102.4 1407.6L1103.3 1407.5L1104.3 1407.1L1105.3 1405.6L1106.2 1404.6L1107.2 1404.2L1108.2 1404L1109.1 1403.6L1110.1 1402.5L1111.1 1401L1112 1401L1113 1401L1114 1400.2L1114.9 1398.3L1115.9 1398L1116.9 1397.3L1117.8 1395.5L1118.8 1395.7L1119.8 1393.8L1120.7 1393.1L1121.7 1392.6L1122.7 1391.5L1123.6 1391.4L1124.6 1390.7L1125.6 1389.3L1126.5 1388.6L1127.5 1388.3L1128.5 1387.1L1129.4 1387.1L1130.4 1385.9L1131.4 1383.4L1132.3 1383.2L1133.3 1381.9L1134.3 1380.7L1135.2 1381L1136.2 1379.5L1137.2 1377.9L1138.1 1378.3L1139.1 1377.2L1140.1 1375.3L1141 1374.7L1142 1373.1L1143 1372.3L1143.9 1370.5L1144.9 1370L1145.9 1369.2L1146.8 1367.6L1147.8 1367.6L1148.8 1365.3L1149.7 1364.8L1150.7 1363.6L1151.7 1361.5L1152.6 1361.8L1153.6 1360.1L1154.6 1359.3L1155.5 1357.7L1156.5 1356.6L1157.5 1356L1158.4 1353.9L1159.4 1352.8L1160.4 1351.1L1161.3 1350.2L1162.3 1348.7L1163.3 1347.5L1164.2 1346.8L1165.2 1344.6L1166.2 1343.5L1167.1 1341.9L1168.1 1342L1169 1339.4L1170 1337.8L1171 1336.6L1171.9 1334.4L1172.9 1334.5L1173.9 1331.8L1174.8 1330.3L1175.8 1329.6L1176.8 1327.2L1177.7 1327L1178.7 1324.9L1179.7 1323.9L1180.6 1320.8L1181.6 1320L1182.6 1318.8L1183.5 1316.5L1184.5 1316.2L1185.5 1313.8L1186.4 1311.9L1187.4 1310.5L1188.4 1309.2L1189.3 1307L1190.3 1305.3L1191.3 1303.5L1192.2 1302.1L1193.2 1300.2L1194.2 1298.3L1195.1 1297.2L1196.1 1294.6L1197.1 1292.4L1198 1291L1199 1289L1200 1287L1200.9 1285.9L1201.9 1283.7L1202.9 1281.8L1203.8 1280.5L1204.8 1278.2L1205.8 1276.1L1206.7 1273.8L1207.7 1272.5L1208.7 1269.8L1209.6 1268.6L1210.6 1266.4L1211.6 1263.7L1212.5 1262.1L1213.5 1260L1214.5 1257.6L1215.4 1255.6L1216.4 1253.9L1217.4 1250.2L1218.3 1249.1L1219.3 1247L1220.3 1244.7L1221.2 1241.9L1222.2 1239.8L1223.2 1237.6L1224.1 1236.3L1225.1 1232.7L1226.1 1231.2L1227 1229L1228 1226L1229 1224.6L1229.9 1221.1L1230.9 1218.4L1231.9 1216.1L1232.8 1213.9L1233.8 1211.8L1234.8 1208.2L1235.7 1205.7L1236.7 1204.2L1237.7 1201.4L1238.6 1198.1L1239.6 1195.2L1240.6 1192.2L1241.5 1189.9L1242.5 1188.1L1243.5 1184.7L1244.4 1182.8L1245.4 1179.5L1246.4 1176L1247.3 1174.3L1248.3 1171L1249.3 1168L1250.2 1165.5L1251.2 1161.9L1252.2 1160.8L1253.1 1155.9L1254.1 1153.1L1255.1 1150.2L1256 1148L1257 1144.2L1258 1140.4L1258.9 1138.2L1259.9 1134.4L1260.9 1131.3L1261.8 1127.7L1262.8 1125.5L1263.8 1121.7L1264.7 1117.9L1265.7 1114.7L1266.7 1111.9L1267.6 1107.3L1268.6 1105.1L1269.6 1100.1L1270.5 1097.8L1271.5 1093.9L1272.5 1090.7L1273.4 1086.8L1274.4 1084.3L1275.4 1079.5L1276.3 1075.7L1277.3 1072.3L1278.3 1068L1279.2 1063.9L1280.2 1060.7L1281.2 1057.1L1282.1 1052.8L1283.1 1049.7L1284.1 1045.4L1285 1042.4L1286 1038.2L1286.9 1032.8L1287.9 1030.1L1288.9 1026.2L1289.8 1021.4L1290.8 1018.6L1291.8 1013.5L1292.7 1010L1293.7 1006L1294.7 1003L1295.6 997.7L1296.6 994.5L1297.6 990.1L1298.5 986L1299.5 981.3L1300.5 979.5L1301.4 973L1302.4 969.6L1303.4 966.4L1304.3 961.5L1305.3 957.8L1306.3 953.2L1307.2 949.8L1308.2 945.7L1309.2 941.6L1310.1 936.9L1311.1 932.9L1312.1 928.9L1313 923.7L1314 920.7L1315 917.7L1315.9 912.3L1316.9 909.3L1317.9 904.8L1318.8 900.7L1319.8 895.9L1320.8 893.3L1321.7 888.2L1322.7 884.6L1323.7 880.8L1324.6 877L1325.6 872.5L1326.6 868.3L1327.5 864.1L1328.5 860.7L1329.5 855.3L1330.4 851.7L1331.4 847.5L1332.4 843.8L1333.3 839.5L1334.3 835.5L1335.3 830.7L1336.2 826.6L1337.2 823.1L1338.2 819.4L1339.1 814.1L1340.1 809.6L1341.1 806L1342 801.4L1343 796.2L1344 793.3L1344.9 788.2L1345.9 784.3L1346.9 779.1L1347.8 774.2L1348.8 770.6L1349.8 766.1L1350.7 761.7L1351.7 757.1L1352.7 753.2L1353.6 748.3L1354.6 743.3L1355.6 738.2L1356.5 733.1L1357.5 729.2L1358.5 724.1L1359.4 719.5L1360.4 714.3L1361.4 709.9L1362.3 705.1L1363.3 700.1L1364.3 695.2L1365.2 690.1L1366.2 685.8L1367.2 680.9L1368.1 675.1L1369.1 670.4L1370.1 665.5L1371 660.7L1372 655.8L1373 650.7L1373.9 645.4L1374.9 642L1375.9 636.2L1376.8 631.6L1377.8 627.4L1378.8 622.2L1379.7 617.8L1380.7 612L1381.7 607.6L1382.6 603.3L1383.6 598L1384.6 592.9L1385.5 588.8L1386.5 584.6L1387.5 578.5L1388.4 575.1L1389.4 570.4L1390.4 565L1391.3 560.8L1392.3 556.8L1393.3 551.1L1394.2 547.7L1395.2 543.5L1396.2 538.9L1397.1 534.7L1398.1 529.5L1399.1 525.7L1400 522.2L1401 519.7L1401.9 514.4L1402.9 510.6L1403.9 506.5L1404.8 503.1L1405.8 498.1L1406.8 496.7L1407.7 490.9L1408.7 486.5L1409.7 483.7L1410.6 480.6L1411.6 477L1412.6 472.2L1413.5 470.4L1414.5 466.8L1415.5 465.9L1416.4 460.3L1417.4 456.9L1418.4 448L1419.3 444.8L1420.3 442.3L1421.3 437.8L1422.2 433.8L1423.2 429.8L1424.2 427.2L1425.1 424.9L1426.1 419.3L1427.1 420.5L1428 418.8L1429 414L1430 414.7L1430.9 408.3L1431.9 404.9L1432.9 402.5L1433.8 387.6L1434.8 386.8L1435.8 380.1L1436.7 377.4L1437.7 370.9L1438.7 368.7L1439.6 366.9L1440.6 365.8L1441.6 363.7L1442.5 364.5L1443.5 362.1L1444.5 360.1L1445.4 353.9L1446.4 353.2L1447.4 353.2L1448.3 344.2L1449.3 345.4L1450.3 344.7L1451.2 342.4L1452.2 342.5L1453.2 341.4L1454.1 345.5L1455.1 338.2L1456.1 333.1L1457 331.8L1458 326.7L1459 320.2L1459.9 313.1L1460.9 303.7L1461.9 291.7L1462.8 290.1L1463.8 290.9L1464.8 282.5L1465.7 281.3L1466.7 282.9L1467.7 280.4L1468.6 273.7L1469.6 266.2L1470.6 265.7L1471.5 269.3L1472.5 257.5L1473.5 258.8L1474.4 255.7L1475.4 251.8L1476.4 247.8L1477.3 248.1L1478.3 245.7L1479.3 248.9L1480.2 243.4L1481.2 248.2L1482.2 242L1483.1 237.4L1484.1 229.6L1485.1 231.5L1486 227.6L1487 227.6L1488 223.1L1488.9 221L1489.9 225.7L1490.9 218L1491.8 216.5L1492.8 212.7L1493.8 212.5L1494.7 214.9L1495.7 204.2L1496.7 205.1L1497.6 200.5L1498.6 199.1L1499.6 188.4L1500.5 193L1501.5 189.1L1502.5 187.3L1503.4 183.1L1504.4 185.7L1505.4 189.8L1506.3 186.3L1507.3 181.5L1508.3 180.6L1509.2 179L1510.2 185.5L1511.2 179.1L1512.1 179.1L1513.1 180.6L1514.1 173.7L1515 177.4L1516 179.2L1516.9 179.4L1517.9 175.7L1518.9 171.2L1519.8 173.7L1520.8 171.1L1521.8 170.4L1522.7 171.5L1523.7 164.7L1524.7 164.7L1525.6 172.9L1526.6 164.1L1527.6 166.4L1528.5 161.3L1529.5 165.8L1530.5 166.3L1531.4 160.8L1532.4 168.3L1533.4 163.9L1534.3 170L1535.3 161.7L1536.3 165.2L1537.2 168.1L1538.2 167.1L1539.2 167.2L1540.1 165.3L1541.1 162.8L1542.1 164.5L1543 163.3L1544 161.3L1545 166.3L1545.9 170L1546.9 172L1547.9 166.4L1548.8 178.5L1549.8 183.3L1550.8 186.7L1551.7 186.8L1552.7 183.4L1553.7 178.5L1554.6 173.3L1555.6 175.6L1556.6 170.2L1557.5 173.3L1558.5 177.2L1559.5 174.1L1560.4 170.8L1561.4 173.5L1562.4 173.3L1563.3 171.2L1564.3 174.5L1565.3 176.4L1566.2 172.3L1567.2 176.7L1568.2 168.7L1569.1 173L1570.1 175.4L1571.1 175.3L1572 176.4L1573 173.4L1574 172.8L1574.9 169.3L1575.9 174.1L1576.9 174.4L1577.8 180.9L1578.8 181.5L1579.8 182.1L1580.7 187.2L1581.7 191.3L1582.7 191.8L1583.6 189.7L1584.6 189.6L1585.6 194.4L1586.5 198.3L1587.5 194.7L1588.5 192.3L1589.4 195.9L1590.4 193.2L1591.4 191.8L1592.3 197.7L1593.3 196.4L1594.3 202.6L1595.2 193.3L1596.2 201.7L1597.2 206.9L1598.1 208.9L1599.1 212.1L1600.1 217L1601 211.5L1602 212.9L1603 213.9L1603.9 220.8L1604.9 218.7L1605.9 222.6L1606.8 222.4L1607.8 227.2L1608.8 232.8L1609.7 242.8L1610.7 235.7L1611.7 236.4L1612.6 242.5L1613.6 242.9L1614.6 236.8L1615.5 245.7L1616.5 244.6L1617.5 248.7L1618.4 249.3L1619.4 254.6L1620.4 253L1621.3 252.7L1622.3 257.7L1623.3 254.8L1624.2 255.9L1625.2 262.5L1626.2 261.1L1627.1 267.7L1628.1 269.4L1629.1 271.4L1630 276.5L1631 278.8L1632 280.5L1632.9 283.3L1633.9 285.3L1634.8 286.9L1635.8 285.2L1636.8 283.3L1637.7 287.5L1638.7 291.3L1639.7 296.5L1640.6 292.8L1641.6 297.4L1642.6 299.2L1643.5 301.8L1644.5 304.5L1645.5 304.9L1646.4 307.8L1647.4 306.2L1648.4 312.2L1649.3 315L1650.3 322.7L1651.3 324.8L1652.2 327.1L1653.2 327.1L1654.2 329L1655.1 330L1656.1 333.5L1657.1 332.8L1658 337.1L1659 338.9L1660 342.5L1660.9 353.5L1661.9 351.2L1662.9 348.2L1663.8 356.3L1664.8 354.4L1665.8 356.3L1666.7 362L1667.7 363.7L1668.7 365.5L1669.6 370.1L1670.6 374.1L1671.6 382.4L1672.5 378.8L1673.5 383.3L1674.5 390.3L1675.4 389.2L1676.4 393.1L1677.4 395L1678.3 400L1679.3 404.1L1680.3 404.9L1681.2 412.8L1682.2 409.7L1683.2 414.6L1684.1 417.3L1685.1 420.8L1686.1 420.7L1687 424.7L1688 428.7L1689 433.5L1689.9 435.3L1690.9 436.5L1691.9 439L1692.8 445.5L1693.8 444.2L1694.8 447.3L1695.7 449.7L1696.7 452.7L1697.7 455.7L1698.6 457.5L1699.6 463L1700.6 465.6L1701.5 467.9L1702.5 474.5L1703.5 471.7L1704.4 477.7L1705.4 482.5L1706.4 483.1L1707.3 489.4L1708.3 491.5L1709.3 493.2L1710.2 500.1L1711.2 499.9L1712.2 503.5L1713.1 507L1714.1 509.1L1715.1 511.8L1716 515.3L1717 517.9L1718 523.9L1718.9 524.4L1719.9 530.3L1720.9 529.7L1721.8 535.4L1722.8 535.1L1723.8 536.7L1724.7 542.6L1725.7 542.4L1726.7 551.5L1727.6 553.7L1728.6 556.5L1729.6 558.4L1730.5 562.4L1731.5 564.9L1732.5 571.9L1733.4 572.8L1734.4 574.1L1735.4 577L1736.3 583.4L1737.3 585L1738.3 590.3L1739.2 591.8L1740.2 596.1L1741.2 593.3L1742.1 601.3L1743.1 601.9L1744.1 607.8L1745 610.7L1746 612.9L1747 614.8L1747.9 617.8L1748.9 620.7L1749.8 623.6L1750.8 623.9L1751.8 630.2L1752.7 632.7L1753.7 634.7L1754.7 641.1L1755.6 641.7L1756.6 647.2L1757.6 651.9L1758.5 657.4L1759.5 657.4L1760.5 661.9L1761.4 660.8L1762.4 666.4L1763.4 668.5L1764.3 672.7L1765.3 672L1766.3 679.1L1767.2 681.6L1768.2 685.8L1769.2 686.7L1770.1 689.4L1771.1 692.4L1772.1 696.4L1773 695.6L1774 703.2L1775 703.3L1775.9 703.6L1776.9 710.4L1777.9 716.2L1778.8 714.5L1779.8 716.7L1780.8 716.8L1781.7 721.4L1782.7 728L1783.7 728.8L1784.6 733.5L1785.6 733.6L1786.6 737.8L1787.5 737.4L1788.5 743.2L1789.5 742.4L1790.4 750.4L1791.4 749.8L1792.4 754.6L1793.3 762.5L1794.3 767.3L1795.3 766.3L1796.2 769L1797.2 777.7L1798.2 777.8L1799.1 779.2L1800.1 785.9L1801.1 782.9L1802 787.5L1803 790.1L1804 792.5L1804.9 794.6L1805.9 793.1L1806.9 797.8L1807.8 800L1808.8 804.4L1809.8 805.2L1810.7 805L1811.7 807.7L1812.7 812.7L1813.6 822.3L1814.6 822.8L1815.6 825.6L1816.5 831.1L1817.5 835.5L1818.5 837L1819.4 838.3L1820.4 844.2L1821.4 845.4L1822.3 848L1823.3 846.4L1824.3 849L1825.2 851.2L1826.2 854.5L1827.2 857.1L1828.1 856.8L1829.1 860.2L1830.1 865.3L1831 868.8L1832 874.3L1833 874.2L1833.9 878.6L1834.9 875.8L1835.9 882.3L1836.8 881L1837.8 884.3L1838.8 888.3L1839.7 890.5L1840.7 891.6L1841.7 896.5L1842.6 894.8L1843.6 899.6L1844.6 903.4L1845.5 904.8L1846.5 908.7L1847.5 914.4L1848.4 912.5L1849.4 915.8L1850.4 917L1851.3 919L1852.3 923.4L1853.3 928L1854.2 927.5L1855.2 933.4L1856.2 934.6L1857.1 934.6L1858.1 936.7L1859.1 939.7L1860 945.2L1861 946.8L1862 952L1862.9 952.1L1863.9 955.2L1864.8 958.2L1865.8 962L1866.8 957.8L1867.7 963.9L1868.7 963.7L1869.7 966.8L1870.6 966.6L1871.6 971.5L1872.6 969.6L1873.5 973.7L1874.5 975.7L1875.5 978.7L1876.4 976.9L1877.4 978.2L1878.4 986.3L1879.3 987.6L1880.3 987.3L1881.3 990.2L1882.2 990.6L1883.2 998.5L1884.2 996.1L1885.1 1002.8L1886.1 1005L1887.1 1009.7L1888 1012.1L1889 1010.1L1890 1011.8L1890.9 1015.3L1891.9 1013.3L1892.9 1019.1L1893.8 1019.6L1894.8 1016.7L1895.8 1024.7L1896.7 1022.1L1897.7 1027.4L1898.7 1026.6L1899.6 1033.4L1900.6 1032.8L1901.6 1033.9L1902.5 1038.7L1903.5 1037.5L1904.5 1037.6L1905.4 1038.7L1906.4 1041.7L1907.4 1043L1908.3 1042.7L1909.3 1044L1910.3 1046.4L1911.2 1047.6L1912.2 1053.7L1913.2 1056.9L1914.1 1056.6L1915.1 1060.2L1916.1 1068.6L1917 1068L1918 1067.9L1919 1072.4L1919.9 1073.7L1920.9 1076.6L1921.9 1081.6L1922.8 1081.3L1923.8 1084.3L1924.8 1087.8L1925.7 1091.6L1926.7 1093L1927.7 1098.8L1928.6 1095.7L1929.6 1099.7L1930.6 1097.2L1931.5 1097.5L1932.5 1100.1L1933.5 1100.8L1934.4 1098.7L1935.4 1101.3L1936.4 1106L1937.3 1108.7L1938.3 1111.6L1939.3 1113.4L1940.2 1112.4L1941.2 1116.5L1942.2 1118.7L1943.1 1119.8L1944.1 1124.4L1945.1 1125.3L1946 1129.4L1947 1131.3L1948 1133.8L1948.9 1135L1949.9 1134.9L1950.9 1136.5L1951.8 1140.4L1952.8 1141.8L1953.8 1145.4L1954.7 1143.2L1955.7 1148.7L1956.7 1149.2L1957.6 1148.2L1958.6 1153.7L1959.6 1154.1L1960.5 1153.7L1961.5 1154.2L1962.5 1157.9L1963.4 1155.5L1964.4 1160.1L1965.4 1157.6L1966.3 1159.4L1967.3 1159.7L1968.3 1160.5L1969.2 1161.9L1970.2 1160.6L1971.2 1165.8L1972.1 1165.9L1973.1 1166.8L1974.1 1167.2L1975 1168.5L1976 1172.2L1977 1171.5L1977.9 1172.9L1978.9 1174.2L1979.9 1175.5L1980.8 1181.3L1981.8 1182.2L1982.7 1180.8L1983.7 1184.6L1984.7 1186.2L1985.6 1189.6L1986.6 1188.8L1987.6 1191L1988.5 1195.3L1989.5 1189.6L1990.5 1196.2L1991.4 1195.5L1992.4 1196.4L1993.4 1195.8L1994.3 1198.1L1995.3 1201.3L1996.3 1199.5L1997.2 1200.5L1998.2 1205.8L1999.2 1204.8L2000.1 1205.7L2001.1 1205L2002.1 1208L2003 1209L2004 1209.9L2005 1210.7L2005.9 1212.2L2006.9 1214.2L2007.9 1211.9L2008.8 1214.8L2009.8 1216.2L2010.8 1215.9L2011.7 1217.1L2012.7 1216.3L2013.7 1217.1L2014.6 1219.6L2015.6 1221.5L2016.6 1223.5L2017.5 1226.5L2018.5 1225.4L2019.5 1227.5L2020.4 1225.6L2021.4 1227.2L2022.4 1227.7L2023.3 1228L2024.3 1232.6L2025.3 1230.1L2026.2 1231.5L2027.2 1234.5L2028.2 1232.7L2029.1 1234.6L2030.1 1236.1L2031.1 1237.3L2032 1236.7L2033 1235.3L2034 1236.7L2034.9 1238L2035.9 1237.4L2036.9 1237.2L2037.8 1240.9L2038.8 1242.9L2044.8 1242.9" stroke="#c00a20" stroke-width="9.3"/>
</g>
<g class="tk" text-anchor="end">
<text transform="translate(253.5 1475.5) scale(1 1.06)">-0.2</text>
<text transform="translate(253.5 1259.4) scale(1 1.06)">0.0</text>
<text transform="translate(253.5 1043.3) scale(1 1.06)">0.2</text>
<text transform="translate(253.5 827.1) scale(1 1.06)">0.4</text>
<text transform="translate(253.5 611.0) scale(1 1.06)">0.6</text>
<text transform="translate(253.5 394.9) scale(1 1.06)">0.8</text>
<text transform="translate(253.5 178.8) scale(1 1.06)">1.0</text>
</g>
<g class="tk" text-anchor="middle">
<text transform="translate(299.8 1547.5) scale(1 1.06)">300</text>
<text transform="translate(493.1 1547.5) scale(1 1.06)">400</text>
<text transform="translate(686.4 1547.5) scale(1 1.06)">500</text>
<text transform="translate(879.6 1547.5) scale(1 1.06)">600</text>
<text transform="translate(1072.9 1547.5) scale(1 1.06)">700</text>
<text transform="translate(1266.2 1547.5) scale(1 1.06)">800</text>
<text transform="translate(1459.5 1547.5) scale(1 1.06)">900</text>
<text transform="translate(1652.7 1547.5) scale(1 1.06)">1000</text>
<text transform="translate(1846.0 1547.5) scale(1 1.06)">1100</text>
<text transform="translate(2039.3 1547.5) scale(1 1.06)">1200</text>
</g>
<g stroke-width="10.5" fill="none" stroke-linecap="round">
<path d="M385 90.0 H535.5" stroke="#06878a"/>
<path d="M385 172.7 H535.5" stroke="#85060f"/>
<path d="M385 255.0 H535.5" stroke="#e0771f"/>
<path d="M385 337.3 H535.5" stroke="#c00a20"/>
<path d="M385 419.3 H535.5" stroke="#c00a20"/>
</g>
<g class="lg">
<text transform="translate(552 113.0) scale(1 1.04)">2.4</text>
<text transform="translate(552 195.7) scale(1 1.04)">3.1</text>
<text transform="translate(552 278.0) scale(1 1.04)">3.9</text>
<text transform="translate(552 360.3) scale(1 1.04)">4.8</text>
<text transform="translate(552 442.3) scale(1 1.04)">5.6</text>
</g>
<text class="ax" text-anchor="middle" transform="translate(1168.5 1653) scale(1.007 1.015)">Wavelength (nm)</text>
<text class="ax" text-anchor="middle" transform="translate(98.5 802.5) rotate(-90) scale(0.995 1.04)">Optical Density</text>
</g>
</svg></body></html>
